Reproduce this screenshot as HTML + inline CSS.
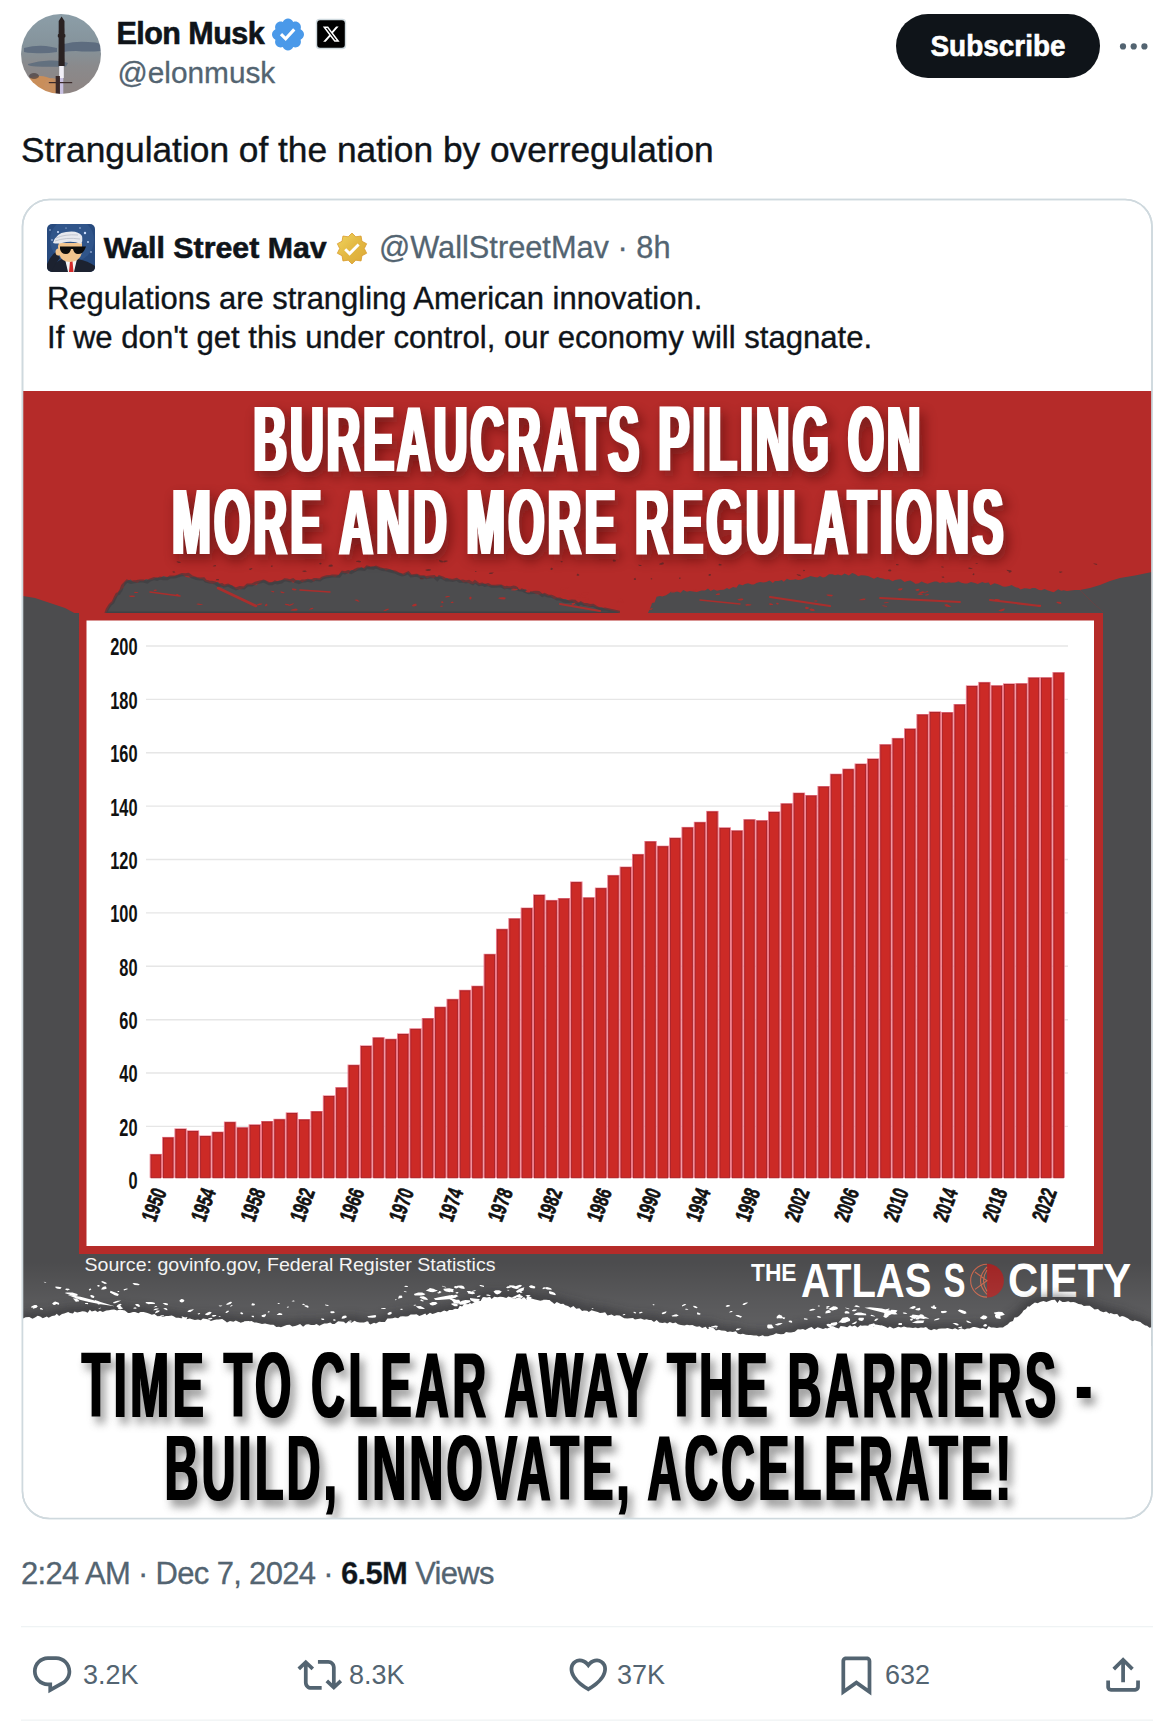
<!DOCTYPE html><html><head><meta charset="utf-8"><title>Elon Musk on X</title>
<style>html,body{margin:0;padding:0;background:#fff;}body{width:1174px;height:1726px;overflow:hidden;position:relative;}svg{display:block;}</style></head><body>
<svg width="1174" height="1726" viewBox="0 0 1174 1726">
<defs>
<clipPath id="av"><circle cx="61" cy="54" r="40"/></clipPath>
<clipPath id="av2"><rect x="47" y="224" width="48" height="48" rx="5"/></clipPath>
<clipPath id="imgclip"><path d="M23 391 H1151.5 V1491 A27 27 0 0 1 1124.5 1518 H50 A27 27 0 0 1 23 1491 Z"/></clipPath>
<linearGradient id="sky" x1="0" y1="0" x2="0" y2="1"><stop offset="0" stop-color="#8c9ea8"/><stop offset="0.4" stop-color="#85939b"/><stop offset="0.65" stop-color="#8a8a8c"/><stop offset="1" stop-color="#8e8482"/></linearGradient>
<radialGradient id="plume" cx="0.25" cy="0.95" r="0.45"><stop offset="0" stop-color="#e0a060"/><stop offset="0.6" stop-color="#b88060" stop-opacity="0.8"/><stop offset="1" stop-color="#9a8d88" stop-opacity="0"/></radialGradient>
<linearGradient id="gold" x1="0" y1="0" x2="1" y2="1"><stop offset="0" stop-color="#f0d560"/><stop offset="0.5" stop-color="#e3b842"/><stop offset="1" stop-color="#dcaa38"/></linearGradient>
<filter id="tsh" x="-5%" y="-20%" width="110%" height="150%"><feGaussianBlur stdDeviation="3"/></filter>
<filter id="avb" x="-5%" y="-5%" width="110%" height="110%"><feGaussianBlur stdDeviation="0.7"/></filter>
<filter id="bl1" x="-5%" y="-20%" width="110%" height="150%"><feGaussianBlur stdDeviation="1.2"/></filter>
<filter id="bl2" x="-10%" y="-10%" width="120%" height="120%"><feGaussianBlur stdDeviation="4"/></filter>
<filter id="dil" x="-2%" y="-10%" width="104%" height="120%"><feMorphology operator="dilate" radius="4.4 0"/></filter>
<filter id="dils" x="-4%" y="-30%" width="108%" height="160%"><feMorphology operator="dilate" radius="4.4 0"/><feGaussianBlur stdDeviation="13 6"/></filter>
<filter id="dil2" x="-2%" y="-10%" width="104%" height="120%"><feMorphology operator="dilate" radius="2.4 0"/></filter>
<filter id="dil2s" x="-4%" y="-30%" width="108%" height="160%"><feMorphology operator="dilate" radius="2.4 0"/><feGaussianBlur stdDeviation="9 4"/></filter>
<linearGradient id="tearg" x1="0" y1="0" x2="0" y2="1"><stop offset="0" stop-color="#fff" stop-opacity="0"/><stop offset="0.5" stop-color="#fff" stop-opacity="0.07"/><stop offset="1" stop-color="#fff" stop-opacity="0.12"/></linearGradient>
</defs>
<g clip-path="url(#av)"><g filter="url(#avb)">
<rect x="21" y="14" width="80" height="80" fill="url(#sky)"/>
<path d="M64 44 Q75 41 88 42 Q96 42 101 44 L101 51 Q88 52 76 51 Q68 51 64 52Z" fill="#56657a" opacity="0.85"/>
<path d="M24 48 Q35 45 46 46 Q52 47 57 48 L57 52 Q45 54 33 53 Q27 53 24 52Z" fill="#56657a" opacity="0.8"/>
<path d="M28 64 Q40 60 52 60.5 Q62 61 68 63 L66 66.5 Q50 67 36 66.5 Q30 66 28 65Z" fill="#56657a" opacity="0.75"/>
<ellipse cx="40" cy="88" rx="17" ry="12" fill="#cf8f55" opacity="0.9"/>
<ellipse cx="52" cy="86" rx="8" ry="8" fill="#c89060" opacity="0.8"/>
<ellipse cx="34" cy="76" rx="5" ry="3" fill="#4a4040" opacity="0.7"/>
<path d="M61.6 16.5 L64.5 21 L64.7 66 L58.5 66 L58.7 21 Z" fill="#2a2224"/>
<rect x="57.8" y="34" width="7.6" height="3.5" rx="1" fill="#2a2224"/>
<rect x="59.2" y="66" width="4.6" height="12" fill="#f2f0f8"/>
<rect x="59.8" y="78" width="3.5" height="16" fill="#c8c0e0"/>
<rect x="55.7" y="76" width="4.2" height="18" fill="#3a2a2a"/>
<rect x="48.8" y="82" width="23.4" height="1.2" fill="#3a2a2a"/>
</g></g>
<text x="116.5" y="44" font-family="'Liberation Sans', sans-serif" font-weight="700" font-size="30.5" letter-spacing="-0.55" fill="#0f1419" stroke="#0f1419" stroke-width="0.6">Elon Musk</text>
<g transform="translate(272.00,18.50) scale(1.5610) translate(-1.75,-1.75)"><path d="M22.25 12c0-1.43-.88-2.67-2.19-3.34.46-1.39.2-2.9-.81-3.91s-2.52-1.27-3.91-.81c-.66-1.31-1.91-2.19-3.34-2.19s-2.67.88-3.33 2.19c-1.4-.46-2.91-.2-3.92.81s-1.26 2.52-.8 3.91c-1.31.67-2.2 1.91-2.2 3.34s.89 2.67 2.2 3.34c-.46 1.39-.21 2.9.8 3.91s2.52 1.26 3.91.81c.67 1.31 1.91 2.19 3.34 2.19s2.68-.88 3.34-2.19c1.39.45 2.9.2 3.91-.81s1.27-2.52.81-3.91c1.31-.67 2.19-1.91 2.19-3.34zm-11.71 4.2L6.8 12.46l1.41-1.42 2.26 2.26 4.8-5.23 1.47 1.36-6.2 6.77z" fill="#4a99e9" fill-rule="evenodd"/></g>
<rect x="315.8" y="18.8" width="30.4" height="30.4" rx="4" fill="#cfd9de"/>
<rect x="317.2" y="20.2" width="27.6" height="27.6" rx="3" fill="#000"/>
<g transform="translate(322.8,26.6) scale(0.78) translate(-1.25,-2.25)"><path d="M18.244 2.25h3.308l-7.227 8.26 8.502 11.24H16.17l-5.214-6.817L4.99 21.75H1.68l7.73-8.835L1.254 2.25H8.08l4.713 6.231zm-1.161 17.52h1.833L7.084 4.126H5.117z" fill="#fff" fill-rule="evenodd"/></g>
<text x="117.5" y="83" font-family="'Liberation Sans', sans-serif" font-size="29.8" fill="#536471" stroke="#536471" stroke-width="0.3">@elonmusk</text>
<rect x="896" y="14" width="204" height="64" rx="32" fill="#0f1419"/>
<text x="998" y="56" text-anchor="middle" font-family="'Liberation Sans', sans-serif" font-weight="700" font-size="29.5" textLength="135" lengthAdjust="spacingAndGlyphs" fill="#fff" stroke="#fff" stroke-width="0.6">Subscribe</text>
<circle cx="1123" cy="46.4" r="3.1" fill="#536471"/>
<circle cx="1133.7" cy="46.4" r="3.1" fill="#536471"/>
<circle cx="1144.4" cy="46.4" r="3.1" fill="#536471"/>
<text x="21" y="161.5" font-family="'Liberation Sans', sans-serif" font-size="35.3" fill="#0f1419" stroke="#0f1419" stroke-width="0.4">Strangulation of the nation by overregulation</text>
<rect x="22.5" y="199.5" width="1129.5" height="1319" rx="27" fill="none" stroke="#cfd9de" stroke-width="1.6"/>
<g clip-path="url(#av2)">
<rect x="47" y="224" width="48" height="48" fill="#274a7e"/>
<circle cx="72" cy="240" r="22" fill="#3a5f96" opacity="0.5"/>
<circle cx="58" cy="232" r="1" fill="#cfe0ff"/>
<circle cx="85" cy="233" r="1.2" fill="#cfe0ff"/>
<circle cx="88" cy="242" r="0.9" fill="#cfe0ff"/>
<circle cx="52" cy="240" r="0.8" fill="#cfe0ff"/>
<circle cx="80" cy="228" r="0.7" fill="#cfe0ff"/>
<circle cx="91" cy="252" r="0.8" fill="#cfe0ff"/>
<circle cx="50" cy="230" r="0.7" fill="#cfe0ff"/>
<circle cx="66" cy="228" r="0.6" fill="#cfe0ff"/>
<path d="M47 264 Q50 256 56 252 L60 258 Q56 262 54 272 H47Z" fill="#1c2230"/>
<path d="M52 272 Q54 262 62 259 L78 259 Q88 261 95 266 V272Z" fill="#1c2230"/>
<path d="M65 259 L77 259 L74 272 L68 272Z" fill="#f4f4f4"/><path d="M70 261 L72.5 261 L73.5 272 L69 272Z" fill="#d42a2a"/>
<path d="M58 246 Q58 262 70 262 Q82 261 82 250 L82 243 L59 243Z" fill="#f1c48e"/>
<ellipse cx="58.5" cy="252" rx="3" ry="3.5" fill="#f1c48e"/>
<path d="M53 243 Q56 233 66 232 Q78 230 82 236 Q83 241 81 244 Q72 240 62 243 Q57 244 53 243Z" fill="#e6e8ee"/>
<path d="M56 238 Q65 234 78 235 M55 241 Q66 237 80 239" stroke="#b8bcc8" stroke-width="0.8" fill="none"/>
<path d="M60 246.5 H86 L85 249 Q83 254 78 254 Q74 254 73 249 L71 249 Q70 254 66 254 Q61 254 60 249Z" fill="#0d0d0d"/>
</g>
<text x="103.8" y="257.8" font-family="'Liberation Sans', sans-serif" font-weight="700" font-size="30.3" fill="#0f1419" stroke="#0f1419" stroke-width="0.6">Wall Street Mav</text>
<path d="M352.00 233.10 L355.80 236.80 L361.05 236.04 L361.95 241.27 L366.65 243.74 L364.30 248.50 L366.65 253.26 L361.95 255.73 L361.05 260.96 L355.80 260.20 L352.00 263.90 L348.20 260.20 L342.95 260.96 L342.05 255.73 L337.35 253.26 L339.70 248.50 L337.35 243.74 L342.05 241.27 L342.95 236.04 L348.20 236.80 Z" fill="url(#gold)" stroke="#d99a2c" stroke-width="0.8" stroke-linejoin="round"/>
<path d="M345.2 249.2 L349.6 253.6 L358.6 244.4" fill="none" stroke="#fff" stroke-width="2.9" stroke-linecap="butt"/>
<text x="379" y="257.8" font-family="'Liberation Sans', sans-serif" font-size="30.76" fill="#536471" stroke="#536471" stroke-width="0.3">@WallStreetMav · 8h</text>
<text x="47" y="309.2" font-family="'Liberation Sans', sans-serif" font-size="30.95" fill="#0f1419" stroke="#0f1419" stroke-width="0.35">Regulations are strangling American innovation.</text>
<text x="47" y="348.4" font-family="'Liberation Sans', sans-serif" font-size="31.1" fill="#0f1419" stroke="#0f1419" stroke-width="0.35">If we don't get this under control, our economy will stagnate.</text>
<g clip-path="url(#imgclip)">
<rect x="23" y="391" width="1129" height="1128" fill="#fff"/>
<rect x="23" y="391" width="1129" height="955" fill="#4c4c4e"/>
<rect x="23" y="391" width="1129" height="222" fill="#b52b29"/>
<path d="M23 596 L35 598 L50 603 L65 608 L78 615 L79 640 L23 640 Z" fill="#4c4c4e"/>
<path d="M1152 572 L1135 575.5 L1120 578 L1110 581 L1100 585 L1090 588 L1080 590 L1090 600 L1103 612 L1103 640 L1152 640 Z" fill="#4c4c4e"/>
<path d="M106.0 613.0 L108.1 608.8 L110.0 605.0 L112.4 603.0 L115.0 598.0 L117.1 595.4 L119.0 591.5 L121.0 590.0 L123.5 587.5 L124.7 582.5 L127.0 581.0 L130.7 579.5 L132.8 581.7 L137.5 582.7 L140.0 581.0 L143.5 581.2 L145.9 579.1 L150.0 580.0 L152.6 579.4 L156.3 577.6 L160.0 578.0 L163.3 576.0 L167.2 577.1 L170.0 577.0 L173.2 576.4 L176.3 575.7 L178.6 575.0 L182.0 574.5 L186.1 577.1 L189.0 577.4 L192.0 577.0 L195.6 577.3 L200.0 579.0 L202.3 579.0 L205.8 581.6 L208.8 582.6 L212.6 583.8 L215.0 583.0 L217.8 581.7 L221.5 585.5 L224.6 586.2 L228.0 585.0 L232.2 585.5 L236.0 589.0 L239.6 589.5 L244.0 588.0 L247.7 585.0 L252.0 585.0 L256.4 585.2 L260.0 582.0 L262.6 580.6 L265.3 580.6 L268.5 583.1 L271.9 582.2 L275.0 582.0 L278.4 580.7 L281.2 580.3 L283.9 580.0 L286.6 580.2 L290.0 581.0 L293.5 582.7 L296.6 580.3 L298.8 580.0 L302.2 582.3 L305.0 581.0 L308.8 579.4 L310.6 579.6 L313.7 581.4 L316.3 579.5 L320.0 580.0 L323.1 577.5 L326.2 577.1 L328.9 576.5 L332.0 576.0 L335.2 576.9 L339.1 574.8 L341.2 572.6 L345.0 573.0 L348.8 573.5 L351.0 570.1 L355.5 570.9 L358.0 569.0 L361.7 567.2 L364.2 569.0 L367.0 567.0 L369.6 567.1 L374.2 566.2 L377.1 567.3 L380.0 568.7 L383.5 568.5 L385.7 570.4 L389.4 569.5 L391.6 569.8 L395.0 572.0 L398.7 572.8 L401.0 573.6 L404.0 575.3 L407.3 572.6 L410.1 574.7 L414.0 575.5 L417.0 574.6 L419.8 576.4 L424.2 575.9 L427.1 578.4 L430.0 577.0 L433.5 578.2 L435.9 576.7 L440.7 576.8 L444.1 579.7 L446.9 577.8 L450.0 580.0 L453.6 580.3 L457.2 580.1 L459.7 579.7 L463.4 582.5 L466.0 582.0 L469.5 583.3 L473.1 583.9 L475.9 582.7 L479.4 585.0 L482.0 584.0 L485.7 584.1 L488.5 586.1 L491.4 585.6 L495.0 585.9 L498.0 586.0 L501.2 585.0 L504.6 588.8 L506.8 588.3 L510.0 588.0 L513.1 589.3 L516.5 588.8 L519.4 588.0 L522.0 590.0 L525.8 589.2 L528.9 591.7 L533.0 592.6 L536.0 594.0 L539.7 594.4 L541.2 593.8 L545.3 594.6 L548.0 596.0 L550.5 595.7 L554.3 599.0 L557.6 598.0 L560.0 599.0 L563.3 598.9 L565.9 598.9 L569.7 601.6 L572.0 601.0 L574.8 603.2 L577.7 603.0 L581.0 602.3 L584.0 604.5 L587.6 606.3 L590.7 606.5 L592.5 605.6 L596.0 607.0 L598.6 607.5 L601.9 607.3 L605 609 L618.5 612 L618.5 613 Z" fill="#4c4c4e"/>
<path d="M648.0 613.0 L649.3 610.1 L651.2 605.7 L652.0 603.0 L654.6 602.4 L656.6 596.8 L660.0 596.0 L662.3 596.5 L666.1 595.2 L669.5 592.9 L671.4 591.1 L675.0 592.0 L677.2 591.6 L680.6 592.8 L683.3 590.1 L686.9 591.7 L690.0 591.0 L693.2 591.4 L696.7 591.9 L698.5 591.4 L701.5 590.5 L705.0 590.5 L708.0 588.6 L710.5 591.1 L713.8 589.4 L717.0 590.8 L720.0 590.0 L723.7 589.7 L727.0 588.1 L729.1 589.2 L733.0 587.0 L736.4 587.8 L738.9 584.2 L742.7 585.2 L745.0 584.0 L748.1 583.2 L751.5 584.6 L753.9 584.4 L756.5 582.9 L760.0 582.0 L763.5 582.6 L766.3 582.1 L769.6 580.4 L772.8 582.9 L775.0 581.0 L778.5 580.9 L781.7 580.0 L783.8 581.7 L786.9 578.7 L790.0 580.0 L793.4 579.8 L795.2 579.2 L798.3 579.9 L801.5 579.5 L805.0 578.0 L808.5 577.0 L810.4 575.9 L814.4 576.9 L817.3 577.6 L820.0 576.0 L823.0 577.4 L825.3 577.1 L829.0 574.2 L832.4 574.2 L835.0 575.2 L838.0 574.5 L841.5 575.6 L844.6 573.6 L848.8 575.4 L852.2 573.0 L855.0 574.0 L858.3 576.2 L861.0 575.3 L864.8 575.6 L868.0 576.0 L870.2 576.9 L874.0 578.7 L877.5 577.1 L880.0 578.0 L883.0 578.6 L885.3 579.5 L888.9 579.3 L892.7 581.2 L895.0 580.0 L898.0 579.5 L900.9 579.3 L904.6 582.1 L906.7 581.2 L910.2 580.6 L913.0 582.0 L915.4 583.8 L918.2 583.5 L921.6 581.6 L925.0 583.0 L927.7 583.7 L931.2 582.5 L934.4 581.6 L937.0 581.6 L940.0 583.0 L942.5 582.0 L945.9 582.9 L948.9 582.3 L951.5 582.7 L955.0 582.5 L958.4 581.3 L961.4 582.8 L964.8 583.5 L967.4 583.4 L971.0 582.0 L975.0 583.1 L977.7 583.9 L982.2 582.1 L985.0 583.0 L988.8 582.4 L990.4 585.2 L994.4 583.3 L996.4 583.7 L1000.0 585.0 L1002.9 586.6 L1005.4 586.8 L1009.3 585.9 L1011.5 584.9 L1015.0 587.0 L1018.7 588.1 L1020.4 589.5 L1024.4 588.2 L1027.3 588.6 L1030.0 589.0 L1032.3 588.1 L1035.3 588.1 L1039.0 589.9 L1041.4 590.2 L1044.5 589.1 L1048.0 590.5 L1052.0 591.8 L1053.7 592.2 L1058.2 589.2 L1061.1 590.7 L1063.8 590.3 L1067.0 591.0 L1070.9 590.6 L1075.0 590.0 L1080 590 L1090 600 L1103 612 L1103 613 Z" fill="#4c4c4e"/>
<path d="M106.0 613.0 L107.2 609.4 L110.0 605.0 L113.1 602.2 L115.0 598.0 L116.9 594.2 L118.8 593.5 L121.0 590.0 L122.5 585.9 L124.2 584.0 L127.0 581.0 L130.7 582.4 L134.1 581.7 L136.6 581.5 L140.0 581.0 L143.3 581.0 L147.2 582.1 L150.0 580.0 L154.0 578.5 L157.1 579.5 L160.0 578.0 L163.2 578.8 L167.3 578.8 L170.0 577.0 L173.4 577.1 L175.8 576.7 L178.3 575.9 L182.0 574.5 L185.3 574.8 L188.4 574.4 L192.0 577.0 L196.2 578.5 L200.0 579.0 L203.7 578.8 L205.7 581.2 L209.1 582.0 L211.8 582.3 L215.0 583.0 L218.5 585.3 L221.9 584.7 L224.0 586.2 L228.0 585.0 L232.4 587.4 L236.0 589.0 L239.8 587.6 L244.0 588.0 L247.5 584.9 L252.0 585.0 L255.4 583.1 L260.0 582.0 L263.6 581.1 L266.0 582.2 L269.1 583.7 L272.2 583.8 L275.0 582.0 L277.3 582.9 L281.4 582.0 L284.7 579.8 L287.0 580.0 L290.0 581.0 L293.0 579.8 L295.3 581.4 L298.9 582.6 L302.2 581.1 L305.0 581.0 L307.7 580.3 L311.1 581.2 L314.3 579.6 L316.2 579.5 L320.0 580.0 L322.3 578.1 L326.4 576.8 L329.6 576.6 L332.0 576.0 L334.5 576.1 L339.2 576.3 L342.4 572.2 L345.0 573.0 L348.2 571.7 L351.1 572.7 L355.4 570.1 L358.0 569.0 L360.9 569.1 L364.5 569.4 L367.0 567.0 L369.6 567.8 L373.4 568.3 L376.0 567.2 L380.0 568.7 L382.4 569.5 L386.3 569.8 L388.6 570.5 L391.9 571.6 L395.0 572.0 L398.2 573.6 L402.1 575.0 L404.1 574.6 L408.3 572.9 L411.0 575.9 L414.0 575.5 L416.8 575.3 L420.5 576.8 L423.8 576.7 L426.3 577.6 L430.0 577.0 L434.1 576.6 L437.3 579.5 L439.3 576.8 L443.2 578.2 L446.0 579.9 L450.0 580.0 L452.5 580.5 L456.7 579.3 L459.8 581.4 L462.8 581.1 L466.0 582.0 L468.9 581.4 L472.9 583.7 L475.0 581.7 L479.0 584.7 L482.0 584.0 L484.7 585.4 L488.0 584.5 L491.4 586.3 L495.6 586.2 L498.0 586.0 L501.1 585.9 L504.7 587.9 L506.8 587.2 L510.0 588.0 L513.6 587.0 L515.3 587.5 L519.0 589.7 L522.0 590.0 L525.3 591.5 L528.7 592.7 L533.0 592.6 L536.3 592.2 L538.7 592.5 L542.3 595.4 L544.4 594.5 L548.0 596.0 L551.4 596.2 L553.4 597.0 L557.1 599.0 L560.0 599.0 L563.7 601.0 L565.9 601.5 L568.7 601.6 L572.0 601.0 L574.8 601.2 L578.6 604.3 L580.8 602.7 L584.0 604.5 L586.8 604.6 L589.8 605.4 L593.1 605.3 L596.0 607.0 L599.1 608.7 L602.1 609.5 L605 609 L618.5 612 L618.5 613 Z" fill="none" stroke="#3c3b3e" stroke-width="3" opacity="0.6"/>
<path d="M293.9 603.7 L292.8 604.6 L290.8 605.6 L288.9 606.0 L288.1 605.7 L289.9 604.6 L293.4 603.2 Z M622.4 599.9 L621.9 601.6 L619.4 601.1 L618.2 599.9 L618.4 599.0 L619.4 598.9 L622.0 598.8 Z M902.7 588.4 L901.8 589.9 L900.0 590.4 L898.8 590.5 L898.0 589.4 L899.0 588.5 L901.3 588.2 Z M203.1 604.7 L201.9 604.9 L198.1 604.8 L196.2 604.1 L197.2 603.7 L198.2 603.5 L200.9 603.9 Z M262.5 603.6 L261.2 604.7 L258.6 605.2 L256.7 605.2 L257.0 604.6 L259.3 603.6 L261.4 603.4 Z M865.8 598.8 L864.8 600.1 L861.3 600.3 L859.4 600.3 L859.3 599.7 L861.3 599.0 L863.8 598.4 Z M1061.3 602.9 L1061.1 604.0 L1059.1 603.7 L1056.4 602.8 L1056.9 601.7 L1058.5 601.8 L1061.1 602.1 Z M808.6 608.6 L808.3 609.0 L806.6 609.3 L805.0 608.3 L804.8 607.7 L806.3 606.8 L809.0 607.6 Z M951.4 606.9 L948.9 606.9 L945.8 606.4 L944.1 604.8 L945.2 604.4 L946.7 604.0 L949.1 605.2 Z M743.5 599.2 L742.7 600.1 L741.3 600.5 L738.9 600.4 L737.3 599.5 L740.6 598.6 L742.4 598.5 Z M530.3 590.9 L529.8 592.6 L527.3 592.6 L526.0 592.1 L525.2 591.0 L527.7 590.1 L529.2 589.5 Z M284.4 593.1 L283.4 593.2 L281.7 593.1 L280.2 591.9 L280.8 591.6 L281.8 591.4 L284.5 592.4 Z M178.7 594.9 L178.1 596.1 L176.5 595.8 L175.8 594.8 L176.1 594.2 L177.3 594.0 L178.1 594.0 Z M296.6 590.0 L294.7 590.5 L292.3 590.1 L291.9 588.9 L292.2 588.6 L293.5 588.4 L296.2 589.1 Z M156.9 590.2 L156.5 590.8 L155.5 591.1 L153.4 590.9 L153.9 590.3 L154.4 589.8 L156.2 589.5 Z M817.3 601.0 L817.3 601.4 L815.3 601.6 L814.7 601.6 L814.1 600.9 L814.7 600.5 L817.2 600.5 Z M289.4 605.0 L288.3 605.3 L286.1 605.3 L285.0 604.7 L285.3 603.7 L287.5 603.9 L288.4 604.1 Z M588.8 593.1 L587.7 594.3 L585.3 595.4 L582.2 594.7 L581.2 593.4 L583.7 592.3 L587.2 592.4 Z M652.6 608.5 L652.3 609.0 L651.4 609.7 L649.2 610.0 L648.8 609.3 L650.0 608.7 L652.5 607.9 Z M1041.3 605.4 L1040.5 606.2 L1038.2 606.5 L1036.8 606.0 L1037.5 605.0 L1038.8 604.7 L1040.6 604.8 Z M389.1 608.8 L388.7 609.6 L385.4 610.9 L384.0 610.7 L383.1 610.5 L386.1 609.3 L387.3 608.8 Z M581.2 596.1 L581.3 597.1 L576.8 597.3 L575.5 596.7 L576.3 595.5 L578.6 594.7 L580.6 595.1 Z M274.5 591.9 L273.2 592.4 L272.4 592.1 L270.9 591.3 L270.9 590.8 L272.6 590.9 L273.9 591.3 Z M624.0 601.9 L622.8 602.7 L620.8 602.9 L615.9 602.1 L617.4 601.8 L618.5 601.2 L622.2 601.6 Z M267.6 605.2 L266.4 606.0 L265.7 606.4 L264.8 605.2 L265.4 604.6 L266.3 603.8 L267.0 603.7 Z M919.6 589.3 L919.4 590.1 L917.9 591.1 L916.1 590.7 L915.2 589.8 L916.7 589.2 L918.2 588.8 Z M588.6 598.9 L588.0 599.4 L585.1 599.1 L582.6 597.8 L583.1 597.3 L585.1 597.4 L587.2 598.0 Z M416.8 604.9 L416.4 605.7 L413.9 606.5 L412.5 606.3 L411.9 605.4 L413.5 604.3 L416.1 603.6 Z M924.6 591.7 L923.2 593.1 L921.4 593.5 L920.1 593.4 L918.6 593.1 L920.6 592.1 L922.6 591.3 Z M929.2 594.7 L928.3 595.0 L926.9 595.4 L925.6 595.4 L924.6 595.0 L927.1 594.3 L928.2 594.1 Z M575.1 603.1 L575.0 603.8 L573.1 604.9 L571.7 604.8 L571.4 604.1 L572.1 603.1 L573.6 602.9 Z M505.6 598.4 L504.5 599.4 L500.8 599.2 L498.0 598.2 L499.3 597.4 L502.7 597.2 L505.5 597.6 Z M135.5 596.2 L133.4 597.0 L130.6 597.0 L129.5 596.6 L128.7 595.8 L131.9 595.5 L134.5 595.8 Z M568.5 587.5 L566.5 588.4 L564.6 589.3 L561.0 589.9 L560.6 588.4 L563.5 587.1 L565.9 587.2 Z M720.0 594.2 L719.1 595.0 L717.2 595.1 L715.9 594.9 L715.7 594.5 L717.3 593.6 L719.5 593.3 Z M450.0 596.1 L449.4 596.8 L446.2 597.6 L445.3 597.2 L444.8 597.0 L446.9 596.1 L448.6 596.0 Z M832.6 595.5 L831.6 596.5 L828.3 595.9 L826.2 595.1 L826.9 594.5 L829.7 594.4 L833.4 595.1 Z M442.9 605.7 L442.7 606.6 L441.6 606.7 L440.4 607.0 L440.3 606.4 L441.0 605.8 L442.5 605.7 Z M778.9 604.1 L777.9 604.6 L777.0 604.6 L776.3 603.6 L775.8 603.1 L777.2 602.8 L778.2 603.1 Z M697.0 589.4 L696.7 589.9 L694.5 590.5 L693.1 590.6 L693.7 590.0 L694.3 589.6 L696.4 589.2 Z M518.1 589.6 L516.6 590.1 L514.7 590.6 L510.8 590.2 L511.6 589.4 L514.0 588.9 L517.2 588.7 Z M751.7 604.6 L750.3 605.4 L746.3 605.8 L745.5 605.3 L745.1 604.8 L747.5 604.0 L749.1 604.2 Z M521.3 589.1 L520.7 589.5 L519.1 589.4 L517.9 587.9 L518.3 587.3 L519.7 587.2 L520.8 587.9 Z M889.4 602.0 L887.5 602.7 L884.4 603.3 L884.0 602.9 L883.9 602.7 L885.3 602.3 L887.1 602.0 Z M453.7 602.4 L452.7 603.0 L451.7 603.1 L450.8 602.7 L450.7 602.2 L452.0 601.7 L452.9 601.6 Z M887.1 606.7 L886.5 606.8 L884.4 606.6 L881.6 605.7 L883.4 605.6 L883.5 605.3 L887.1 606.2 Z M997.4 599.7 L997.8 600.5 L995.2 601.3 L994.2 600.6 L994.3 600.3 L995.2 599.2 L997.6 599.0 Z M814.9 610.5 L813.5 611.0 L811.9 611.0 L809.3 609.9 L810.2 608.8 L811.3 608.6 L814.1 609.3 Z M313.3 608.1 L313.2 608.8 L311.1 609.4 L309.5 609.5 L308.7 609.4 L311.2 608.1 L313.3 607.8 Z M359.7 601.3 L358.3 601.8 L356.9 601.1 L354.3 600.1 L355.0 599.7 L357.1 599.6 L358.4 600.5 Z M471.7 597.7 L471.2 598.9 L470.1 599.7 L469.4 598.9 L469.2 597.6 L470.0 597.1 L470.8 596.6 Z M1000.2 599.3 L998.4 600.4 L996.9 600.9 L993.9 600.9 L994.5 600.1 L995.4 599.0 L997.7 599.2 Z M1004.9 608.8 L1004.0 610.5 L1000.9 611.4 L999.2 610.8 L998.0 610.6 L1001.7 609.2 L1004.0 608.6 Z M923.1 594.5 L921.9 594.8 L919.6 595.0 L917.1 594.3 L917.7 593.9 L918.7 593.5 L922.6 594.1 Z M928.2 591.1 L928.1 591.8 L925.9 592.6 L924.1 592.8 L923.0 592.8 L925.6 591.8 L926.4 591.5 Z M297.8 609.5 L297.1 610.5 L294.4 610.7 L290.8 610.4 L290.7 609.9 L293.5 609.0 L296.1 608.4 Z M773.3 605.0 L771.6 605.0 L770.8 605.2 L768.4 603.9 L769.5 603.5 L770.7 603.2 L772.6 604.0 Z M138.6 592.3 L137.2 592.9 L135.3 593.0 L134.0 592.8 L134.3 592.2 L134.7 591.8 L136.7 591.9 Z M675.0 591.7 L674.7 592.6 L670.9 592.6 L670.8 592.0 L669.9 591.6 L672.2 591.1 L673.7 591.3 Z M443.5 601.9 L443.2 603.0 L442.0 603.0 L441.1 602.6 L441.0 601.9 L441.8 601.3 L442.5 601.2 Z " fill="#b52b29" opacity="0.9"/>
<path d="M1062.6 572.0 L1061.4 572.6 L1060.1 572.9 L1059.2 572.2 L1059.1 571.4 L1060.7 571.4 L1061.8 571.4 Z M801.1 576.3 L800.0 576.1 L798.4 575.8 L796.4 574.5 L797.3 574.2 L798.9 574.4 L800.1 574.8 Z M944.3 577.3 L944.0 577.8 L943.0 577.8 L942.1 577.4 L941.5 576.8 L943.0 576.5 L943.6 576.5 Z M1009.5 571.0 L1009.0 571.2 L1007.2 571.0 L1007.0 570.6 L1006.5 569.8 L1008.1 569.9 L1009.2 570.0 Z M443.0 561.3 L442.8 562.4 L440.6 562.2 L439.2 561.3 L439.0 559.9 L440.7 560.2 L442.5 560.7 Z M711.0 574.3 L710.8 575.5 L709.6 576.1 L708.8 575.6 L708.2 575.3 L709.1 574.1 L709.9 574.0 Z M252.4 568.3 L252.0 569.0 L250.5 570.0 L249.6 569.8 L248.8 569.0 L250.0 568.6 L252.3 567.9 Z M805.0 570.5 L804.6 571.1 L803.5 571.2 L803.1 570.7 L803.2 570.3 L803.6 569.8 L804.8 570.1 Z M361.2 561.5 L360.1 562.4 L358.7 562.3 L355.8 561.5 L356.2 560.9 L358.8 560.5 L360.4 561.0 Z M972.9 568.9 L971.6 569.1 L970.0 569.0 L968.2 568.4 L968.5 567.8 L969.4 567.6 L971.8 568.2 Z M680.9 578.0 L680.5 578.5 L679.8 578.9 L679.3 578.8 L678.9 578.1 L679.5 577.4 L680.1 577.4 Z M652.4 579.0 L651.9 579.3 L651.4 579.6 L650.9 579.2 L650.6 578.6 L651.3 578.3 L651.8 578.2 Z M448.2 561.0 L445.9 562.0 L443.9 562.5 L443.3 562.0 L443.3 560.9 L445.0 560.4 L446.5 560.6 Z M476.8 572.0 L476.3 572.1 L475.5 572.1 L475.2 571.8 L474.8 571.3 L475.8 571.1 L476.4 571.4 Z M431.2 569.7 L430.0 570.8 L427.5 571.1 L425.7 570.6 L425.4 569.7 L428.2 568.9 L430.3 569.3 Z M332.9 565.7 L332.5 566.4 L330.1 566.8 L328.6 566.5 L328.5 565.7 L329.6 564.7 L331.9 564.6 Z M943.9 567.4 L943.8 567.6 L942.2 567.5 L940.9 566.9 L941.5 566.6 L942.7 566.6 L943.5 566.8 Z M1097.3 564.4 L1096.9 564.9 L1095.0 564.4 L1093.7 563.8 L1093.2 563.2 L1095.1 563.5 L1096.6 563.7 Z M180.8 563.0 L179.6 562.9 L178.5 562.9 L176.7 561.9 L176.9 561.3 L178.8 561.4 L180.0 561.8 Z M974.5 574.3 L973.9 575.0 L973.2 575.3 L972.5 574.7 L973.1 573.6 L973.4 573.2 L974.4 573.7 Z M562.7 561.8 L562.5 562.1 L561.7 562.4 L560.5 561.6 L560.4 561.2 L561.8 560.9 L562.7 561.3 Z M321.5 563.7 L321.1 564.2 L320.2 564.6 L319.1 563.7 L319.8 563.0 L320.5 562.7 L321.6 563.2 Z M493.9 572.6 L492.3 573.8 L490.7 573.9 L489.7 574.0 L488.7 573.1 L491.0 572.5 L493.0 572.4 Z M424.4 578.7 L423.1 579.3 L421.0 579.2 L419.7 578.7 L419.9 577.9 L421.4 577.8 L423.1 578.2 Z M219.0 579.5 L218.9 580.3 L217.3 580.3 L215.7 580.3 L216.1 579.4 L216.7 579.1 L218.5 579.1 Z M175.4 572.4 L175.0 572.6 L173.6 572.7 L172.4 571.9 L172.5 571.5 L174.2 571.2 L174.5 571.6 Z M216.1 565.4 L215.8 566.2 L213.9 566.5 L212.8 566.2 L212.9 565.9 L214.3 565.2 L215.6 565.0 Z M663.5 562.8 L663.9 563.9 L661.7 564.8 L659.4 564.7 L659.4 563.7 L660.3 563.2 L663.0 562.2 Z M579.5 574.9 L578.6 575.8 L577.3 575.8 L576.6 575.2 L576.5 574.9 L577.7 573.6 L578.3 574.0 Z M306.9 571.4 L306.0 571.8 L304.1 571.9 L302.3 571.4 L302.9 570.8 L304.4 570.4 L305.5 570.5 Z M891.5 570.3 L890.4 571.5 L888.9 571.2 L888.0 570.6 L888.5 569.7 L889.6 569.6 L890.3 569.6 Z M636.0 579.0 L636.0 579.7 L635.1 580.0 L633.9 579.8 L633.8 578.7 L634.4 578.3 L635.2 577.8 Z M721.6 565.2 L720.9 565.6 L719.0 565.5 L718.5 565.1 L718.9 564.0 L719.4 563.8 L721.4 564.2 Z M898.8 564.7 L898.5 565.2 L897.0 565.2 L896.2 564.9 L896.0 564.2 L896.5 564.0 L898.1 564.2 Z M616.1 561.1 L614.9 561.6 L613.9 561.7 L612.7 561.1 L612.7 560.4 L613.4 559.6 L615.4 560.1 Z M977.7 563.6 L977.6 563.9 L976.5 564.1 L975.7 563.7 L975.6 563.3 L976.5 563.2 L977.6 563.2 Z M553.0 568.6 L552.5 569.6 L551.5 569.9 L550.7 569.7 L550.4 569.0 L551.2 567.8 L552.1 568.0 Z M1011.8 571.0 L1011.2 572.0 L1009.6 572.7 L1008.6 572.3 L1008.6 571.1 L1009.3 570.2 L1010.6 570.3 Z M272.8 566.1 L272.1 566.9 L271.8 566.9 L270.9 566.5 L271.0 565.8 L271.9 565.5 L272.5 565.6 Z M641.8 565.7 L641.0 566.1 L639.5 566.0 L638.5 565.2 L638.1 564.8 L638.9 564.7 L641.0 565.1 Z " fill="#5a2a2a" opacity="0.8"/>
<line x1="218" y1="588" x2="256" y2="606" stroke="#b52b29" stroke-width="2.6" stroke-linecap="round" opacity="0.9"/>
<line x1="560" y1="604" x2="600" y2="611" stroke="#b52b29" stroke-width="2" stroke-linecap="round" opacity="0.9"/>
<line x1="770" y1="597" x2="830" y2="606" stroke="#b52b29" stroke-width="2.2" stroke-linecap="round" opacity="0.9"/>
<line x1="880" y1="598" x2="960" y2="602" stroke="#b52b29" stroke-width="1.8" stroke-linecap="round" opacity="0.9"/>
<line x1="990" y1="600" x2="1040" y2="606" stroke="#b52b29" stroke-width="2" stroke-linecap="round" opacity="0.9"/>
<line x1="300" y1="590" x2="330" y2="592" stroke="#b52b29" stroke-width="1.5" stroke-linecap="round" opacity="0.9"/>
<line x1="700" y1="600" x2="740" y2="604" stroke="#b52b29" stroke-width="1.5" stroke-linecap="round" opacity="0.9"/>
<line x1="150" y1="592" x2="180" y2="596" stroke="#b52b29" stroke-width="1.5" stroke-linecap="round" opacity="0.9"/>
<rect x="79" y="613" width="1024" height="641" fill="#b52b29"/>
<rect x="86.5" y="620.5" width="1007.5" height="625.5" fill="#fff"/>
<text x="137.5" y="1189.2" text-anchor="end" font-family="'Liberation Sans', sans-serif" font-weight="700" font-size="23.8" textLength="9.1" lengthAdjust="spacingAndGlyphs" fill="#111">0</text>
<line x1="146" y1="1126.4" x2="1068" y2="1126.4" stroke="#e6e6e6" stroke-width="1.4"/>
<text x="137.5" y="1135.8" text-anchor="end" font-family="'Liberation Sans', sans-serif" font-weight="700" font-size="23.8" textLength="18.2" lengthAdjust="spacingAndGlyphs" fill="#111">20</text>
<line x1="146" y1="1073.0" x2="1068" y2="1073.0" stroke="#e6e6e6" stroke-width="1.4"/>
<text x="137.5" y="1082.4" text-anchor="end" font-family="'Liberation Sans', sans-serif" font-weight="700" font-size="23.8" textLength="18.2" lengthAdjust="spacingAndGlyphs" fill="#111">40</text>
<line x1="146" y1="1019.7" x2="1068" y2="1019.7" stroke="#e6e6e6" stroke-width="1.4"/>
<text x="137.5" y="1029.1" text-anchor="end" font-family="'Liberation Sans', sans-serif" font-weight="700" font-size="23.8" textLength="18.2" lengthAdjust="spacingAndGlyphs" fill="#111">60</text>
<line x1="146" y1="966.3" x2="1068" y2="966.3" stroke="#e6e6e6" stroke-width="1.4"/>
<text x="137.5" y="975.7" text-anchor="end" font-family="'Liberation Sans', sans-serif" font-weight="700" font-size="23.8" textLength="18.2" lengthAdjust="spacingAndGlyphs" fill="#111">80</text>
<line x1="146" y1="912.9" x2="1068" y2="912.9" stroke="#e6e6e6" stroke-width="1.4"/>
<text x="137.5" y="922.3" text-anchor="end" font-family="'Liberation Sans', sans-serif" font-weight="700" font-size="23.8" textLength="27.3" lengthAdjust="spacingAndGlyphs" fill="#111">100</text>
<line x1="146" y1="859.5" x2="1068" y2="859.5" stroke="#e6e6e6" stroke-width="1.4"/>
<text x="137.5" y="868.9" text-anchor="end" font-family="'Liberation Sans', sans-serif" font-weight="700" font-size="23.8" textLength="27.3" lengthAdjust="spacingAndGlyphs" fill="#111">120</text>
<line x1="146" y1="806.1" x2="1068" y2="806.1" stroke="#e6e6e6" stroke-width="1.4"/>
<text x="137.5" y="815.5" text-anchor="end" font-family="'Liberation Sans', sans-serif" font-weight="700" font-size="23.8" textLength="27.3" lengthAdjust="spacingAndGlyphs" fill="#111">140</text>
<line x1="146" y1="752.8" x2="1068" y2="752.8" stroke="#e6e6e6" stroke-width="1.4"/>
<text x="137.5" y="762.2" text-anchor="end" font-family="'Liberation Sans', sans-serif" font-weight="700" font-size="23.8" textLength="27.3" lengthAdjust="spacingAndGlyphs" fill="#111">160</text>
<line x1="146" y1="699.4" x2="1068" y2="699.4" stroke="#e6e6e6" stroke-width="1.4"/>
<text x="137.5" y="708.8" text-anchor="end" font-family="'Liberation Sans', sans-serif" font-weight="700" font-size="23.8" textLength="27.3" lengthAdjust="spacingAndGlyphs" fill="#111">180</text>
<line x1="146" y1="646.0" x2="1068" y2="646.0" stroke="#e6e6e6" stroke-width="1.4"/>
<text x="137.5" y="655.4" text-anchor="end" font-family="'Liberation Sans', sans-serif" font-weight="700" font-size="23.8" textLength="27.3" lengthAdjust="spacingAndGlyphs" fill="#111">200</text>
<rect x="149.70" y="1153.9" width="12.37" height="23.9" fill="#ec7a88"/>
<rect x="151.15" y="1155.0" width="9.47" height="22.8" fill="#cc2a26" stroke="#a82127" stroke-width="0.9"/>
<rect x="162.07" y="1136.9" width="12.37" height="40.9" fill="#ec7a88"/>
<rect x="163.52" y="1138.0" width="9.47" height="39.8" fill="#cc2a26" stroke="#a82127" stroke-width="0.9"/>
<rect x="174.43" y="1128.4" width="12.37" height="49.4" fill="#ec7a88"/>
<rect x="175.88" y="1129.5" width="9.47" height="48.3" fill="#cc2a26" stroke="#a82127" stroke-width="0.9"/>
<rect x="186.80" y="1130.4" width="12.37" height="47.4" fill="#ec7a88"/>
<rect x="188.25" y="1131.5" width="9.47" height="46.3" fill="#cc2a26" stroke="#a82127" stroke-width="0.9"/>
<rect x="199.16" y="1135.5" width="12.37" height="42.3" fill="#ec7a88"/>
<rect x="200.61" y="1136.5" width="9.47" height="41.3" fill="#cc2a26" stroke="#a82127" stroke-width="0.9"/>
<rect x="211.53" y="1131.6" width="12.37" height="46.2" fill="#ec7a88"/>
<rect x="212.98" y="1132.7" width="9.47" height="45.1" fill="#cc2a26" stroke="#a82127" stroke-width="0.9"/>
<rect x="223.90" y="1121.6" width="12.37" height="56.2" fill="#ec7a88"/>
<rect x="225.35" y="1122.7" width="9.47" height="55.1" fill="#cc2a26" stroke="#a82127" stroke-width="0.9"/>
<rect x="236.26" y="1127.1" width="12.37" height="50.7" fill="#ec7a88"/>
<rect x="237.71" y="1128.2" width="9.47" height="49.6" fill="#cc2a26" stroke="#a82127" stroke-width="0.9"/>
<rect x="248.63" y="1124.3" width="12.37" height="53.5" fill="#ec7a88"/>
<rect x="250.08" y="1125.4" width="9.47" height="52.4" fill="#cc2a26" stroke="#a82127" stroke-width="0.9"/>
<rect x="261.00" y="1121.0" width="12.37" height="56.8" fill="#ec7a88"/>
<rect x="262.45" y="1122.0" width="9.47" height="55.8" fill="#cc2a26" stroke="#a82127" stroke-width="0.9"/>
<rect x="273.36" y="1118.8" width="12.37" height="59.0" fill="#ec7a88"/>
<rect x="274.81" y="1119.9" width="9.47" height="57.9" fill="#cc2a26" stroke="#a82127" stroke-width="0.9"/>
<rect x="285.73" y="1112.4" width="12.37" height="65.4" fill="#ec7a88"/>
<rect x="287.18" y="1113.5" width="9.47" height="64.3" fill="#cc2a26" stroke="#a82127" stroke-width="0.9"/>
<rect x="298.09" y="1119.0" width="12.37" height="58.8" fill="#ec7a88"/>
<rect x="299.54" y="1120.0" width="9.47" height="57.8" fill="#cc2a26" stroke="#a82127" stroke-width="0.9"/>
<rect x="310.46" y="1111.0" width="12.37" height="66.8" fill="#ec7a88"/>
<rect x="311.91" y="1112.0" width="9.47" height="65.8" fill="#cc2a26" stroke="#a82127" stroke-width="0.9"/>
<rect x="322.83" y="1095.4" width="12.37" height="82.4" fill="#ec7a88"/>
<rect x="324.28" y="1096.5" width="9.47" height="81.3" fill="#cc2a26" stroke="#a82127" stroke-width="0.9"/>
<rect x="335.19" y="1087.1" width="12.37" height="90.7" fill="#ec7a88"/>
<rect x="336.64" y="1088.2" width="9.47" height="89.6" fill="#cc2a26" stroke="#a82127" stroke-width="0.9"/>
<rect x="347.56" y="1064.6" width="12.37" height="113.2" fill="#ec7a88"/>
<rect x="349.01" y="1065.7" width="9.47" height="112.1" fill="#cc2a26" stroke="#a82127" stroke-width="0.9"/>
<rect x="359.93" y="1045.4" width="12.37" height="132.4" fill="#ec7a88"/>
<rect x="361.38" y="1046.5" width="9.47" height="131.3" fill="#cc2a26" stroke="#a82127" stroke-width="0.9"/>
<rect x="372.29" y="1037.2" width="12.37" height="140.6" fill="#ec7a88"/>
<rect x="373.74" y="1038.2" width="9.47" height="139.6" fill="#cc2a26" stroke="#a82127" stroke-width="0.9"/>
<rect x="384.66" y="1038.7" width="12.37" height="139.1" fill="#ec7a88"/>
<rect x="386.11" y="1039.8" width="9.47" height="138.1" fill="#cc2a26" stroke="#a82127" stroke-width="0.9"/>
<rect x="397.02" y="1033.4" width="12.37" height="144.4" fill="#ec7a88"/>
<rect x="398.47" y="1034.5" width="9.47" height="143.3" fill="#cc2a26" stroke="#a82127" stroke-width="0.9"/>
<rect x="409.39" y="1028.3" width="12.37" height="149.5" fill="#ec7a88"/>
<rect x="410.84" y="1029.4" width="9.47" height="148.4" fill="#cc2a26" stroke="#a82127" stroke-width="0.9"/>
<rect x="421.76" y="1018.0" width="12.37" height="159.8" fill="#ec7a88"/>
<rect x="423.21" y="1019.1" width="9.47" height="158.7" fill="#cc2a26" stroke="#a82127" stroke-width="0.9"/>
<rect x="434.12" y="1006.6" width="12.37" height="171.2" fill="#ec7a88"/>
<rect x="435.57" y="1007.7" width="9.47" height="170.1" fill="#cc2a26" stroke="#a82127" stroke-width="0.9"/>
<rect x="446.49" y="998.8" width="12.37" height="179.0" fill="#ec7a88"/>
<rect x="447.94" y="999.9" width="9.47" height="177.9" fill="#cc2a26" stroke="#a82127" stroke-width="0.9"/>
<rect x="458.86" y="989.8" width="12.37" height="188.0" fill="#ec7a88"/>
<rect x="460.31" y="990.9" width="9.47" height="186.9" fill="#cc2a26" stroke="#a82127" stroke-width="0.9"/>
<rect x="471.22" y="985.7" width="12.37" height="192.1" fill="#ec7a88"/>
<rect x="472.67" y="986.8" width="9.47" height="191.1" fill="#cc2a26" stroke="#a82127" stroke-width="0.9"/>
<rect x="483.59" y="953.8" width="12.37" height="224.0" fill="#ec7a88"/>
<rect x="485.04" y="954.9" width="9.47" height="222.9" fill="#cc2a26" stroke="#a82127" stroke-width="0.9"/>
<rect x="495.95" y="928.7" width="12.37" height="249.1" fill="#ec7a88"/>
<rect x="497.40" y="929.8" width="9.47" height="248.1" fill="#cc2a26" stroke="#a82127" stroke-width="0.9"/>
<rect x="508.32" y="918.1" width="12.37" height="259.7" fill="#ec7a88"/>
<rect x="509.77" y="919.2" width="9.47" height="258.6" fill="#cc2a26" stroke="#a82127" stroke-width="0.9"/>
<rect x="520.69" y="907.6" width="12.37" height="270.2" fill="#ec7a88"/>
<rect x="522.14" y="908.7" width="9.47" height="269.1" fill="#cc2a26" stroke="#a82127" stroke-width="0.9"/>
<rect x="533.05" y="894.4" width="12.37" height="283.4" fill="#ec7a88"/>
<rect x="534.50" y="895.5" width="9.47" height="282.3" fill="#cc2a26" stroke="#a82127" stroke-width="0.9"/>
<rect x="545.42" y="899.9" width="12.37" height="277.9" fill="#ec7a88"/>
<rect x="546.87" y="901.0" width="9.47" height="276.8" fill="#cc2a26" stroke="#a82127" stroke-width="0.9"/>
<rect x="557.79" y="898.0" width="12.37" height="279.8" fill="#ec7a88"/>
<rect x="559.24" y="899.1" width="9.47" height="278.7" fill="#cc2a26" stroke="#a82127" stroke-width="0.9"/>
<rect x="570.15" y="881.5" width="12.37" height="296.3" fill="#ec7a88"/>
<rect x="571.60" y="882.6" width="9.47" height="295.2" fill="#cc2a26" stroke="#a82127" stroke-width="0.9"/>
<rect x="582.52" y="897.2" width="12.37" height="280.6" fill="#ec7a88"/>
<rect x="583.97" y="898.2" width="9.47" height="279.6" fill="#cc2a26" stroke="#a82127" stroke-width="0.9"/>
<rect x="594.88" y="887.6" width="12.37" height="290.2" fill="#ec7a88"/>
<rect x="596.33" y="888.7" width="9.47" height="289.1" fill="#cc2a26" stroke="#a82127" stroke-width="0.9"/>
<rect x="607.25" y="874.9" width="12.37" height="302.9" fill="#ec7a88"/>
<rect x="608.70" y="876.0" width="9.47" height="301.8" fill="#cc2a26" stroke="#a82127" stroke-width="0.9"/>
<rect x="619.62" y="866.6" width="12.37" height="311.2" fill="#ec7a88"/>
<rect x="621.07" y="867.7" width="9.47" height="310.1" fill="#cc2a26" stroke="#a82127" stroke-width="0.9"/>
<rect x="631.98" y="853.9" width="12.37" height="323.9" fill="#ec7a88"/>
<rect x="633.43" y="855.0" width="9.47" height="322.8" fill="#cc2a26" stroke="#a82127" stroke-width="0.9"/>
<rect x="644.35" y="841.0" width="12.37" height="336.8" fill="#ec7a88"/>
<rect x="645.80" y="842.1" width="9.47" height="335.7" fill="#cc2a26" stroke="#a82127" stroke-width="0.9"/>
<rect x="656.71" y="845.7" width="12.37" height="332.1" fill="#ec7a88"/>
<rect x="658.16" y="846.8" width="9.47" height="331.1" fill="#cc2a26" stroke="#a82127" stroke-width="0.9"/>
<rect x="669.08" y="837.5" width="12.37" height="340.3" fill="#ec7a88"/>
<rect x="670.53" y="838.6" width="9.47" height="339.2" fill="#cc2a26" stroke="#a82127" stroke-width="0.9"/>
<rect x="681.45" y="826.9" width="12.37" height="350.9" fill="#ec7a88"/>
<rect x="682.90" y="828.0" width="9.47" height="349.8" fill="#cc2a26" stroke="#a82127" stroke-width="0.9"/>
<rect x="693.81" y="821.8" width="12.37" height="356.0" fill="#ec7a88"/>
<rect x="695.26" y="822.9" width="9.47" height="354.9" fill="#cc2a26" stroke="#a82127" stroke-width="0.9"/>
<rect x="706.18" y="810.9" width="12.37" height="366.9" fill="#ec7a88"/>
<rect x="707.63" y="812.0" width="9.47" height="365.8" fill="#cc2a26" stroke="#a82127" stroke-width="0.9"/>
<rect x="718.55" y="827.3" width="12.37" height="350.5" fill="#ec7a88"/>
<rect x="720.00" y="828.4" width="9.47" height="349.4" fill="#cc2a26" stroke="#a82127" stroke-width="0.9"/>
<rect x="730.91" y="830.2" width="12.37" height="347.6" fill="#ec7a88"/>
<rect x="732.36" y="831.2" width="9.47" height="346.6" fill="#cc2a26" stroke="#a82127" stroke-width="0.9"/>
<rect x="743.28" y="819.1" width="12.37" height="358.7" fill="#ec7a88"/>
<rect x="744.73" y="820.2" width="9.47" height="357.6" fill="#cc2a26" stroke="#a82127" stroke-width="0.9"/>
<rect x="755.64" y="820.1" width="12.37" height="357.7" fill="#ec7a88"/>
<rect x="757.09" y="821.2" width="9.47" height="356.6" fill="#cc2a26" stroke="#a82127" stroke-width="0.9"/>
<rect x="768.01" y="811.4" width="12.37" height="366.4" fill="#ec7a88"/>
<rect x="769.46" y="812.5" width="9.47" height="365.3" fill="#cc2a26" stroke="#a82127" stroke-width="0.9"/>
<rect x="780.38" y="803.2" width="12.37" height="374.6" fill="#ec7a88"/>
<rect x="781.83" y="804.2" width="9.47" height="373.6" fill="#cc2a26" stroke="#a82127" stroke-width="0.9"/>
<rect x="792.74" y="792.6" width="12.37" height="385.2" fill="#ec7a88"/>
<rect x="794.19" y="793.7" width="9.47" height="384.1" fill="#cc2a26" stroke="#a82127" stroke-width="0.9"/>
<rect x="805.11" y="795.0" width="12.37" height="382.8" fill="#ec7a88"/>
<rect x="806.56" y="796.1" width="9.47" height="381.7" fill="#cc2a26" stroke="#a82127" stroke-width="0.9"/>
<rect x="817.48" y="786.0" width="12.37" height="391.8" fill="#ec7a88"/>
<rect x="818.93" y="787.1" width="9.47" height="390.7" fill="#cc2a26" stroke="#a82127" stroke-width="0.9"/>
<rect x="829.84" y="773.7" width="12.37" height="404.1" fill="#ec7a88"/>
<rect x="831.29" y="774.8" width="9.47" height="403.1" fill="#cc2a26" stroke="#a82127" stroke-width="0.9"/>
<rect x="842.21" y="768.6" width="12.37" height="409.2" fill="#ec7a88"/>
<rect x="843.66" y="769.7" width="9.47" height="408.1" fill="#cc2a26" stroke="#a82127" stroke-width="0.9"/>
<rect x="854.57" y="763.5" width="12.37" height="414.3" fill="#ec7a88"/>
<rect x="856.02" y="764.6" width="9.47" height="413.2" fill="#cc2a26" stroke="#a82127" stroke-width="0.9"/>
<rect x="866.94" y="758.4" width="12.37" height="419.4" fill="#ec7a88"/>
<rect x="868.39" y="759.5" width="9.47" height="418.3" fill="#cc2a26" stroke="#a82127" stroke-width="0.9"/>
<rect x="879.31" y="744.1" width="12.37" height="433.7" fill="#ec7a88"/>
<rect x="880.76" y="745.2" width="9.47" height="432.6" fill="#cc2a26" stroke="#a82127" stroke-width="0.9"/>
<rect x="891.67" y="737.9" width="12.37" height="439.9" fill="#ec7a88"/>
<rect x="893.12" y="739.0" width="9.47" height="438.8" fill="#cc2a26" stroke="#a82127" stroke-width="0.9"/>
<rect x="904.04" y="728.3" width="12.37" height="449.5" fill="#ec7a88"/>
<rect x="905.49" y="729.4" width="9.47" height="448.4" fill="#cc2a26" stroke="#a82127" stroke-width="0.9"/>
<rect x="916.41" y="714.0" width="12.37" height="463.8" fill="#ec7a88"/>
<rect x="917.86" y="715.1" width="9.47" height="462.7" fill="#cc2a26" stroke="#a82127" stroke-width="0.9"/>
<rect x="928.77" y="711.4" width="12.37" height="466.4" fill="#ec7a88"/>
<rect x="930.22" y="712.5" width="9.47" height="465.3" fill="#cc2a26" stroke="#a82127" stroke-width="0.9"/>
<rect x="941.14" y="712.0" width="12.37" height="465.8" fill="#ec7a88"/>
<rect x="942.59" y="713.1" width="9.47" height="464.7" fill="#cc2a26" stroke="#a82127" stroke-width="0.9"/>
<rect x="953.50" y="704.0" width="12.37" height="473.8" fill="#ec7a88"/>
<rect x="954.95" y="705.1" width="9.47" height="472.7" fill="#cc2a26" stroke="#a82127" stroke-width="0.9"/>
<rect x="965.87" y="685.4" width="12.37" height="492.4" fill="#ec7a88"/>
<rect x="967.32" y="686.5" width="9.47" height="491.3" fill="#cc2a26" stroke="#a82127" stroke-width="0.9"/>
<rect x="978.24" y="681.9" width="12.37" height="495.9" fill="#ec7a88"/>
<rect x="979.69" y="683.0" width="9.47" height="494.8" fill="#cc2a26" stroke="#a82127" stroke-width="0.9"/>
<rect x="990.60" y="685.2" width="12.37" height="492.6" fill="#ec7a88"/>
<rect x="992.05" y="686.2" width="9.47" height="491.6" fill="#cc2a26" stroke="#a82127" stroke-width="0.9"/>
<rect x="1002.97" y="683.4" width="12.37" height="494.4" fill="#ec7a88"/>
<rect x="1004.42" y="684.5" width="9.47" height="493.3" fill="#cc2a26" stroke="#a82127" stroke-width="0.9"/>
<rect x="1015.34" y="683.1" width="12.37" height="494.7" fill="#ec7a88"/>
<rect x="1016.79" y="684.2" width="9.47" height="493.6" fill="#cc2a26" stroke="#a82127" stroke-width="0.9"/>
<rect x="1027.70" y="677.2" width="12.37" height="500.6" fill="#ec7a88"/>
<rect x="1029.15" y="678.2" width="9.47" height="499.6" fill="#cc2a26" stroke="#a82127" stroke-width="0.9"/>
<rect x="1040.07" y="677.2" width="12.37" height="500.6" fill="#ec7a88"/>
<rect x="1041.52" y="678.2" width="9.47" height="499.6" fill="#cc2a26" stroke="#a82127" stroke-width="0.9"/>
<rect x="1052.43" y="672.1" width="12.37" height="505.7" fill="#ec7a88"/>
<rect x="1053.88" y="673.2" width="9.47" height="504.6" fill="#cc2a26" stroke="#a82127" stroke-width="0.9"/>
<text transform="translate(156.2,1205.5) rotate(-70)" x="0" y="5.2" text-anchor="middle" font-family="'Liberation Sans', sans-serif" font-weight="700" font-size="22" textLength="33.5" lengthAdjust="spacingAndGlyphs" fill="#111" stroke="#111" stroke-width="0.7">1950</text>
<text transform="translate(205.6,1205.5) rotate(-70)" x="0" y="5.2" text-anchor="middle" font-family="'Liberation Sans', sans-serif" font-weight="700" font-size="22" textLength="33.5" lengthAdjust="spacingAndGlyphs" fill="#111" stroke="#111" stroke-width="0.7">1954</text>
<text transform="translate(255.1,1205.5) rotate(-70)" x="0" y="5.2" text-anchor="middle" font-family="'Liberation Sans', sans-serif" font-weight="700" font-size="22" textLength="33.5" lengthAdjust="spacingAndGlyphs" fill="#111" stroke="#111" stroke-width="0.7">1958</text>
<text transform="translate(304.6,1205.5) rotate(-70)" x="0" y="5.2" text-anchor="middle" font-family="'Liberation Sans', sans-serif" font-weight="700" font-size="22" textLength="33.5" lengthAdjust="spacingAndGlyphs" fill="#111" stroke="#111" stroke-width="0.7">1962</text>
<text transform="translate(354.0,1205.5) rotate(-70)" x="0" y="5.2" text-anchor="middle" font-family="'Liberation Sans', sans-serif" font-weight="700" font-size="22" textLength="33.5" lengthAdjust="spacingAndGlyphs" fill="#111" stroke="#111" stroke-width="0.7">1966</text>
<text transform="translate(403.5,1205.5) rotate(-70)" x="0" y="5.2" text-anchor="middle" font-family="'Liberation Sans', sans-serif" font-weight="700" font-size="22" textLength="33.5" lengthAdjust="spacingAndGlyphs" fill="#111" stroke="#111" stroke-width="0.7">1970</text>
<text transform="translate(453.0,1205.5) rotate(-70)" x="0" y="5.2" text-anchor="middle" font-family="'Liberation Sans', sans-serif" font-weight="700" font-size="22" textLength="33.5" lengthAdjust="spacingAndGlyphs" fill="#111" stroke="#111" stroke-width="0.7">1974</text>
<text transform="translate(502.4,1205.5) rotate(-70)" x="0" y="5.2" text-anchor="middle" font-family="'Liberation Sans', sans-serif" font-weight="700" font-size="22" textLength="33.5" lengthAdjust="spacingAndGlyphs" fill="#111" stroke="#111" stroke-width="0.7">1978</text>
<text transform="translate(551.9,1205.5) rotate(-70)" x="0" y="5.2" text-anchor="middle" font-family="'Liberation Sans', sans-serif" font-weight="700" font-size="22" textLength="33.5" lengthAdjust="spacingAndGlyphs" fill="#111" stroke="#111" stroke-width="0.7">1982</text>
<text transform="translate(601.4,1205.5) rotate(-70)" x="0" y="5.2" text-anchor="middle" font-family="'Liberation Sans', sans-serif" font-weight="700" font-size="22" textLength="33.5" lengthAdjust="spacingAndGlyphs" fill="#111" stroke="#111" stroke-width="0.7">1986</text>
<text transform="translate(650.8,1205.5) rotate(-70)" x="0" y="5.2" text-anchor="middle" font-family="'Liberation Sans', sans-serif" font-weight="700" font-size="22" textLength="33.5" lengthAdjust="spacingAndGlyphs" fill="#111" stroke="#111" stroke-width="0.7">1990</text>
<text transform="translate(700.3,1205.5) rotate(-70)" x="0" y="5.2" text-anchor="middle" font-family="'Liberation Sans', sans-serif" font-weight="700" font-size="22" textLength="33.5" lengthAdjust="spacingAndGlyphs" fill="#111" stroke="#111" stroke-width="0.7">1994</text>
<text transform="translate(749.8,1205.5) rotate(-70)" x="0" y="5.2" text-anchor="middle" font-family="'Liberation Sans', sans-serif" font-weight="700" font-size="22" textLength="33.5" lengthAdjust="spacingAndGlyphs" fill="#111" stroke="#111" stroke-width="0.7">1998</text>
<text transform="translate(799.2,1205.5) rotate(-70)" x="0" y="5.2" text-anchor="middle" font-family="'Liberation Sans', sans-serif" font-weight="700" font-size="22" textLength="33.5" lengthAdjust="spacingAndGlyphs" fill="#111" stroke="#111" stroke-width="0.7">2002</text>
<text transform="translate(848.7,1205.5) rotate(-70)" x="0" y="5.2" text-anchor="middle" font-family="'Liberation Sans', sans-serif" font-weight="700" font-size="22" textLength="33.5" lengthAdjust="spacingAndGlyphs" fill="#111" stroke="#111" stroke-width="0.7">2006</text>
<text transform="translate(898.2,1205.5) rotate(-70)" x="0" y="5.2" text-anchor="middle" font-family="'Liberation Sans', sans-serif" font-weight="700" font-size="22" textLength="33.5" lengthAdjust="spacingAndGlyphs" fill="#111" stroke="#111" stroke-width="0.7">2010</text>
<text transform="translate(947.6,1205.5) rotate(-70)" x="0" y="5.2" text-anchor="middle" font-family="'Liberation Sans', sans-serif" font-weight="700" font-size="22" textLength="33.5" lengthAdjust="spacingAndGlyphs" fill="#111" stroke="#111" stroke-width="0.7">2014</text>
<text transform="translate(997.1,1205.5) rotate(-70)" x="0" y="5.2" text-anchor="middle" font-family="'Liberation Sans', sans-serif" font-weight="700" font-size="22" textLength="33.5" lengthAdjust="spacingAndGlyphs" fill="#111" stroke="#111" stroke-width="0.7">2018</text>
<text transform="translate(1046.6,1205.5) rotate(-70)" x="0" y="5.2" text-anchor="middle" font-family="'Liberation Sans', sans-serif" font-weight="700" font-size="22" textLength="33.5" lengthAdjust="spacingAndGlyphs" fill="#111" stroke="#111" stroke-width="0.7">2022</text>
<text x="84.5" y="1270.5" font-family="'Liberation Sans', sans-serif" font-size="18.6" textLength="411" lengthAdjust="spacingAndGlyphs" fill="#f4f4f4">Source: govinfo.gov, Federal Register Statistics</text>
<text x="751" y="1281.3" font-family="'Liberation Sans', sans-serif" font-weight="700" font-size="24.7" textLength="45.5" lengthAdjust="spacingAndGlyphs" fill="#fff">THE</text>
<text x="801" y="1297" font-family="'Liberation Sans', sans-serif" font-weight="700" font-size="48.5" textLength="130.5" lengthAdjust="spacingAndGlyphs" fill="#fff">ATLAS</text>
<text x="943.5" y="1297" font-family="'Liberation Sans', sans-serif" font-weight="700" font-size="48.5" textLength="22" lengthAdjust="spacingAndGlyphs" fill="#fff">S</text>
<path d="M987 1263.8 A16.9 16.9 0 0 1 987 1297.6 Z" fill="#a02424"/>
<path d="M987 1264.3 A16.4 16.4 0 0 0 987 1297.1 M987 1267 Q974 1280.7 987 1294.4 M987 1270 Q980 1280.7 987 1291.4 M975 1272 L987 1280.7 L975 1289.4" fill="none" stroke="#c8644a" stroke-width="1.1"/>
<text x="1008" y="1297" font-family="'Liberation Sans', sans-serif" font-weight="700" font-size="48.5" textLength="123" lengthAdjust="spacingAndGlyphs" fill="#fff">CIETY</text>
<rect x="23" y="1262" width="1129" height="75" fill="url(#tearg)"/>
<path d="M23.0 1318.6 L25.6 1317.3 L29.3 1317.0 L32.5 1318.8 L35.0 1317.5 L37.7 1315.8 L40.2 1316.6 L42.8 1318.3 L46.8 1316.5 L48.6 1317.8 L52.0 1316.0 L55.0 1315.4 L56.7 1313.7 L59.1 1316.0 L62.0 1313.9 L64.2 1313.6 L68.2 1311.9 L70.0 1313.0 L72.9 1313.6 L74.6 1311.6 L77.1 1312.4 L80.7 1311.8 L82.2 1311.2 L85.0 1311.4 L87.7 1312.8 L89.8 1309.7 L91.8 1311.6 L95.3 1310.5 L97.6 1312.1 L100.0 1310.8 L102.8 1312.0 L106.2 1310.4 L109.0 1310.3 L111.1 1309.7 L114.2 1309.5 L117.0 1310.5 L119.2 1309.7 L122.3 1310.1 L124.9 1310.6 L128.0 1313.1 L129.9 1312.9 L133.0 1312.0 L135.1 1311.9 L138.3 1313.2 L140.5 1312.1 L143.6 1312.1 L147.4 1313.1 L149.5 1313.7 L151.9 1314.8 L154.4 1314.0 L157.5 1316.2 L160.9 1316.1 L162.5 1316.9 L166.0 1316.0 L168.5 1315.9 L171.9 1315.5 L174.4 1316.7 L176.0 1317.8 L178.9 1317.8 L182.0 1318.6 L184.1 1317.3 L186.6 1319.2 L189.9 1318.4 L192.1 1319.3 L194.9 1320.0 L198.0 1319.5 L200.9 1320.3 L202.9 1318.5 L206.3 1319.0 L208.5 1319.5 L210.9 1321.1 L214.0 1320.0 L216.4 1319.5 L218.6 1319.4 L222.2 1319.0 L225.2 1320.9 L227.0 1322.4 L230.0 1321.0 L233.4 1321.7 L235.8 1320.4 L239.0 1321.9 L240.6 1322.7 L243.2 1322.1 L246.6 1321.8 L249.0 1321.9 L251.5 1321.1 L254.3 1322.4 L256.3 1322.6 L259.4 1323.3 L262.0 1324.0 L265.1 1323.4 L267.0 1324.1 L270.4 1324.8 L273.5 1324.7 L276.3 1326.9 L279.0 1326.7 L280.9 1327.2 L284.1 1326.1 L286.8 1325.0 L289.7 1324.8 L292.3 1326.4 L295.0 1326.0 L297.3 1325.3 L300.1 1324.1 L303.1 1326.8 L305.9 1324.6 L308.3 1324.2 L311.0 1325.0 L314.4 1325.1 L316.5 1324.1 L319.4 1325.7 L321.9 1324.4 L324.2 1323.5 L327.0 1323.5 L330.3 1322.5 L332.4 1324.1 L334.6 1324.0 L338.1 1321.2 L340.7 1321.5 L343.7 1321.8 L345.9 1323.4 L348.7 1321.0 L351.4 1322.7 L354.6 1320.7 L356.9 1322.0 L360.0 1322.5 L362.9 1322.6 L365.5 1323.0 L368.5 1323.1 L370.4 1324.6 L374.0 1322.8 L376.0 1323.4 L379.1 1321.8 L381.9 1322.1 L384.9 1322.0 L387.4 1318.5 L390.0 1318.6 L392.8 1318.2 L395.0 1317.5 L398.1 1318.3 L400.3 1316.4 L402.8 1316.3 L406.0 1316.5 L408.1 1316.3 L410.6 1314.6 L414.3 1314.5 L416.6 1314.3 L419.3 1316.1 L422.0 1315.0 L425.3 1313.4 L426.6 1315.2 L430.0 1312.7 L432.5 1313.9 L434.9 1313.2 L438.0 1312.0 L440.6 1312.2 L444.1 1310.4 L447.0 1311.5 L449.2 1310.1 L452.4 1310.0 L455.0 1308.8 L458.0 1308.9 L459.8 1305.7 L462.1 1306.4 L464.2 1303.9 L468.2 1304.2 L470.0 1303.0 L471.8 1303.7 L474.7 1302.0 L477.1 1301.1 L480.5 1301.2 L482.5 1297.6 L483.8 1297.1 L487.0 1297.5 L490.0 1296.7 L491.7 1298.9 L494.2 1296.7 L497.6 1297.3 L500.0 1296.7 L503.0 1297.0 L506.3 1298.0 L508.3 1296.5 L511.7 1297.6 L513.8 1298.9 L516.8 1298.0 L519.5 1297.5 L521.5 1298.8 L524.0 1297.1 L526.9 1299.9 L529.2 1298.8 L531.6 1298.6 L535.0 1299.5 L537.3 1300.1 L540.3 1300.7 L543.5 1299.9 L545.9 1300.7 L548.5 1300.1 L552.0 1302.0 L554.4 1303.9 L556.8 1302.0 L560.8 1303.9 L563.3 1303.7 L565.2 1305.3 L568.0 1306.0 L570.5 1307.7 L573.4 1306.1 L576.2 1308.8 L579.4 1308.3 L582.1 1310.9 L584.0 1310.5 L587.2 1310.7 L588.8 1312.1 L591.5 1310.2 L594.0 1310.9 L597.7 1312.1 L600.0 1313.0 L602.8 1312.8 L605.1 1312.2 L607.5 1315.6 L611.6 1314.6 L614.2 1315.9 L616.6 1315.3 L619.8 1315.4 L622.5 1317.2 L624.2 1318.2 L627.4 1318.5 L629.9 1318.2 L633.0 1318.0 L634.9 1319.6 L637.9 1318.9 L640.8 1318.6 L644.2 1319.8 L646.6 1319.2 L649.0 1320.0 L651.3 1319.9 L654.0 1322.1 L656.7 1320.0 L659.2 1322.4 L662.4 1322.9 L665.0 1322.5 L667.2 1323.5 L669.8 1322.1 L672.9 1323.3 L675.7 1322.6 L678.0 1324.3 L681.0 1325.0 L684.4 1325.4 L686.9 1324.7 L689.4 1325.3 L692.4 1324.9 L695.1 1326.3 L697.0 1326.8 L699.6 1326.2 L702.1 1328.0 L705.6 1326.8 L707.8 1329.2 L710.7 1327.0 L713.7 1328.3 L715.9 1330.4 L718.9 1329.8 L721.4 1330.4 L725.2 1330.8 L727.5 1332.1 L730.0 1331.5 L732.8 1332.0 L735.9 1331.3 L737.9 1333.7 L740.5 1334.2 L742.9 1333.8 L746.0 1334.7 L748.8 1335.1 L750.6 1334.9 L753.9 1335.4 L756.8 1335.4 L758.8 1336.6 L762.8 1335.2 L764.4 1336.2 L768.1 1336.3 L770.0 1335.6 L773.3 1334.7 L776.1 1333.2 L777.6 1333.8 L780.9 1334.3 L783.9 1334.0 L786.0 1332.0 L788.9 1332.5 L791.0 1332.6 L794.8 1331.7 L797.8 1329.2 L800.2 1329.4 L803.0 1329.0 L805.3 1330.0 L808.9 1328.0 L811.6 1327.1 L814.3 1329.3 L817.6 1327.3 L820.0 1328.0 L823.0 1329.0 L825.8 1328.0 L827.2 1328.6 L829.8 1327.2 L832.8 1326.0 L835.6 1327.4 L838.9 1328.4 L840.6 1325.9 L844.4 1326.6 L847.2 1327.2 L850.0 1325.3 L852.0 1326.5 L854.9 1325.4 L857.7 1327.5 L860.3 1325.2 L861.9 1325.8 L865.0 1325.4 L868.0 1325.8 L870.5 1326.3 L874.0 1326.4 L875.9 1325.2 L879.3 1327.0 L881.6 1325.3 L885.0 1326.6 L887.8 1328.1 L889.8 1326.4 L893.3 1328.6 L895.4 1327.9 L898.2 1326.7 L901.0 1327.4 L904.0 1326.4 L907.2 1327.4 L909.4 1327.5 L913.0 1328.0 L915.5 1327.6 L918.0 1328.2 L920.8 1327.5 L923.9 1327.8 L926.6 1327.9 L928.6 1329.3 L931.2 1330.3 L934.0 1329.0 L936.8 1329.7 L938.6 1328.7 L941.7 1328.6 L945.4 1328.6 L947.6 1328.1 L950.0 1328.7 L952.4 1329.2 L955.1 1328.3 L958.1 1329.8 L961.1 1328.2 L964.7 1329.5 L967.0 1328.4 L969.7 1328.6 L973.0 1327.0 L974.8 1326.9 L978.0 1327.7 L980.1 1328.6 L983.0 1328.0 L986.5 1329.2 L988.7 1326.3 L991.1 1327.6 L993.8 1327.5 L997.0 1328.0 L999.6 1327.4 L1003.0 1327.6 L1004.6 1326.3 L1007.6 1324.4 L1010.0 1322.0 L1013.0 1321.1 L1014.4 1317.6 L1017.0 1317.2 L1019.0 1316.0 L1022.1 1312.8 L1023.5 1310.4 L1026.0 1309.0 L1027.8 1306.3 L1029.3 1306.7 L1032.0 1304.4 L1034.9 1302.5 L1037.7 1303.2 L1040.0 1302.0 L1043.5 1300.9 L1046.4 1302.1 L1049.0 1301.0 L1051.6 1299.9 L1054.9 1299.8 L1057.6 1302.9 L1059.4 1300.1 L1062.4 1301.9 L1065.0 1302.0 L1068.2 1301.2 L1070.5 1302.2 L1073.4 1302.0 L1075.4 1302.4 L1078.5 1304.0 L1081.6 1304.4 L1083.9 1306.1 L1086.4 1305.7 L1089.7 1305.8 L1092.5 1307.7 L1094.6 1309.4 L1098.0 1309.0 L1100.1 1311.0 L1103.4 1312.3 L1106.2 1311.4 L1109.4 1313.7 L1110.6 1313.1 L1114.0 1314.3 L1117.2 1314.1 L1119.7 1317.0 L1122.0 1316.1 L1124.0 1316.6 L1128.1 1318.4 L1130.0 1320.0 L1133.0 1321.3 L1134.7 1320.2 L1136.9 1321.1 L1140.4 1322.1 L1142.1 1323.6 L1145.2 1325.5 L1147.0 1325.8 L1149.6 1327.8 L1152 1327 L1152 1519 L23 1519 Z" fill="none" stroke="#2c2c2e" stroke-width="10" opacity="0.55" filter="url(#bl2)"/>
<path d="M23.0 1318.6 L25.6 1317.3 L29.3 1317.0 L32.5 1318.8 L35.0 1317.5 L37.7 1315.8 L40.2 1316.6 L42.8 1318.3 L46.8 1316.5 L48.6 1317.8 L52.0 1316.0 L55.0 1315.4 L56.7 1313.7 L59.1 1316.0 L62.0 1313.9 L64.2 1313.6 L68.2 1311.9 L70.0 1313.0 L72.9 1313.6 L74.6 1311.6 L77.1 1312.4 L80.7 1311.8 L82.2 1311.2 L85.0 1311.4 L87.7 1312.8 L89.8 1309.7 L91.8 1311.6 L95.3 1310.5 L97.6 1312.1 L100.0 1310.8 L102.8 1312.0 L106.2 1310.4 L109.0 1310.3 L111.1 1309.7 L114.2 1309.5 L117.0 1310.5 L119.2 1309.7 L122.3 1310.1 L124.9 1310.6 L128.0 1313.1 L129.9 1312.9 L133.0 1312.0 L135.1 1311.9 L138.3 1313.2 L140.5 1312.1 L143.6 1312.1 L147.4 1313.1 L149.5 1313.7 L151.9 1314.8 L154.4 1314.0 L157.5 1316.2 L160.9 1316.1 L162.5 1316.9 L166.0 1316.0 L168.5 1315.9 L171.9 1315.5 L174.4 1316.7 L176.0 1317.8 L178.9 1317.8 L182.0 1318.6 L184.1 1317.3 L186.6 1319.2 L189.9 1318.4 L192.1 1319.3 L194.9 1320.0 L198.0 1319.5 L200.9 1320.3 L202.9 1318.5 L206.3 1319.0 L208.5 1319.5 L210.9 1321.1 L214.0 1320.0 L216.4 1319.5 L218.6 1319.4 L222.2 1319.0 L225.2 1320.9 L227.0 1322.4 L230.0 1321.0 L233.4 1321.7 L235.8 1320.4 L239.0 1321.9 L240.6 1322.7 L243.2 1322.1 L246.6 1321.8 L249.0 1321.9 L251.5 1321.1 L254.3 1322.4 L256.3 1322.6 L259.4 1323.3 L262.0 1324.0 L265.1 1323.4 L267.0 1324.1 L270.4 1324.8 L273.5 1324.7 L276.3 1326.9 L279.0 1326.7 L280.9 1327.2 L284.1 1326.1 L286.8 1325.0 L289.7 1324.8 L292.3 1326.4 L295.0 1326.0 L297.3 1325.3 L300.1 1324.1 L303.1 1326.8 L305.9 1324.6 L308.3 1324.2 L311.0 1325.0 L314.4 1325.1 L316.5 1324.1 L319.4 1325.7 L321.9 1324.4 L324.2 1323.5 L327.0 1323.5 L330.3 1322.5 L332.4 1324.1 L334.6 1324.0 L338.1 1321.2 L340.7 1321.5 L343.7 1321.8 L345.9 1323.4 L348.7 1321.0 L351.4 1322.7 L354.6 1320.7 L356.9 1322.0 L360.0 1322.5 L362.9 1322.6 L365.5 1323.0 L368.5 1323.1 L370.4 1324.6 L374.0 1322.8 L376.0 1323.4 L379.1 1321.8 L381.9 1322.1 L384.9 1322.0 L387.4 1318.5 L390.0 1318.6 L392.8 1318.2 L395.0 1317.5 L398.1 1318.3 L400.3 1316.4 L402.8 1316.3 L406.0 1316.5 L408.1 1316.3 L410.6 1314.6 L414.3 1314.5 L416.6 1314.3 L419.3 1316.1 L422.0 1315.0 L425.3 1313.4 L426.6 1315.2 L430.0 1312.7 L432.5 1313.9 L434.9 1313.2 L438.0 1312.0 L440.6 1312.2 L444.1 1310.4 L447.0 1311.5 L449.2 1310.1 L452.4 1310.0 L455.0 1308.8 L458.0 1308.9 L459.8 1305.7 L462.1 1306.4 L464.2 1303.9 L468.2 1304.2 L470.0 1303.0 L471.8 1303.7 L474.7 1302.0 L477.1 1301.1 L480.5 1301.2 L482.5 1297.6 L483.8 1297.1 L487.0 1297.5 L490.0 1296.7 L491.7 1298.9 L494.2 1296.7 L497.6 1297.3 L500.0 1296.7 L503.0 1297.0 L506.3 1298.0 L508.3 1296.5 L511.7 1297.6 L513.8 1298.9 L516.8 1298.0 L519.5 1297.5 L521.5 1298.8 L524.0 1297.1 L526.9 1299.9 L529.2 1298.8 L531.6 1298.6 L535.0 1299.5 L537.3 1300.1 L540.3 1300.7 L543.5 1299.9 L545.9 1300.7 L548.5 1300.1 L552.0 1302.0 L554.4 1303.9 L556.8 1302.0 L560.8 1303.9 L563.3 1303.7 L565.2 1305.3 L568.0 1306.0 L570.5 1307.7 L573.4 1306.1 L576.2 1308.8 L579.4 1308.3 L582.1 1310.9 L584.0 1310.5 L587.2 1310.7 L588.8 1312.1 L591.5 1310.2 L594.0 1310.9 L597.7 1312.1 L600.0 1313.0 L602.8 1312.8 L605.1 1312.2 L607.5 1315.6 L611.6 1314.6 L614.2 1315.9 L616.6 1315.3 L619.8 1315.4 L622.5 1317.2 L624.2 1318.2 L627.4 1318.5 L629.9 1318.2 L633.0 1318.0 L634.9 1319.6 L637.9 1318.9 L640.8 1318.6 L644.2 1319.8 L646.6 1319.2 L649.0 1320.0 L651.3 1319.9 L654.0 1322.1 L656.7 1320.0 L659.2 1322.4 L662.4 1322.9 L665.0 1322.5 L667.2 1323.5 L669.8 1322.1 L672.9 1323.3 L675.7 1322.6 L678.0 1324.3 L681.0 1325.0 L684.4 1325.4 L686.9 1324.7 L689.4 1325.3 L692.4 1324.9 L695.1 1326.3 L697.0 1326.8 L699.6 1326.2 L702.1 1328.0 L705.6 1326.8 L707.8 1329.2 L710.7 1327.0 L713.7 1328.3 L715.9 1330.4 L718.9 1329.8 L721.4 1330.4 L725.2 1330.8 L727.5 1332.1 L730.0 1331.5 L732.8 1332.0 L735.9 1331.3 L737.9 1333.7 L740.5 1334.2 L742.9 1333.8 L746.0 1334.7 L748.8 1335.1 L750.6 1334.9 L753.9 1335.4 L756.8 1335.4 L758.8 1336.6 L762.8 1335.2 L764.4 1336.2 L768.1 1336.3 L770.0 1335.6 L773.3 1334.7 L776.1 1333.2 L777.6 1333.8 L780.9 1334.3 L783.9 1334.0 L786.0 1332.0 L788.9 1332.5 L791.0 1332.6 L794.8 1331.7 L797.8 1329.2 L800.2 1329.4 L803.0 1329.0 L805.3 1330.0 L808.9 1328.0 L811.6 1327.1 L814.3 1329.3 L817.6 1327.3 L820.0 1328.0 L823.0 1329.0 L825.8 1328.0 L827.2 1328.6 L829.8 1327.2 L832.8 1326.0 L835.6 1327.4 L838.9 1328.4 L840.6 1325.9 L844.4 1326.6 L847.2 1327.2 L850.0 1325.3 L852.0 1326.5 L854.9 1325.4 L857.7 1327.5 L860.3 1325.2 L861.9 1325.8 L865.0 1325.4 L868.0 1325.8 L870.5 1326.3 L874.0 1326.4 L875.9 1325.2 L879.3 1327.0 L881.6 1325.3 L885.0 1326.6 L887.8 1328.1 L889.8 1326.4 L893.3 1328.6 L895.4 1327.9 L898.2 1326.7 L901.0 1327.4 L904.0 1326.4 L907.2 1327.4 L909.4 1327.5 L913.0 1328.0 L915.5 1327.6 L918.0 1328.2 L920.8 1327.5 L923.9 1327.8 L926.6 1327.9 L928.6 1329.3 L931.2 1330.3 L934.0 1329.0 L936.8 1329.7 L938.6 1328.7 L941.7 1328.6 L945.4 1328.6 L947.6 1328.1 L950.0 1328.7 L952.4 1329.2 L955.1 1328.3 L958.1 1329.8 L961.1 1328.2 L964.7 1329.5 L967.0 1328.4 L969.7 1328.6 L973.0 1327.0 L974.8 1326.9 L978.0 1327.7 L980.1 1328.6 L983.0 1328.0 L986.5 1329.2 L988.7 1326.3 L991.1 1327.6 L993.8 1327.5 L997.0 1328.0 L999.6 1327.4 L1003.0 1327.6 L1004.6 1326.3 L1007.6 1324.4 L1010.0 1322.0 L1013.0 1321.1 L1014.4 1317.6 L1017.0 1317.2 L1019.0 1316.0 L1022.1 1312.8 L1023.5 1310.4 L1026.0 1309.0 L1027.8 1306.3 L1029.3 1306.7 L1032.0 1304.4 L1034.9 1302.5 L1037.7 1303.2 L1040.0 1302.0 L1043.5 1300.9 L1046.4 1302.1 L1049.0 1301.0 L1051.6 1299.9 L1054.9 1299.8 L1057.6 1302.9 L1059.4 1300.1 L1062.4 1301.9 L1065.0 1302.0 L1068.2 1301.2 L1070.5 1302.2 L1073.4 1302.0 L1075.4 1302.4 L1078.5 1304.0 L1081.6 1304.4 L1083.9 1306.1 L1086.4 1305.7 L1089.7 1305.8 L1092.5 1307.7 L1094.6 1309.4 L1098.0 1309.0 L1100.1 1311.0 L1103.4 1312.3 L1106.2 1311.4 L1109.4 1313.7 L1110.6 1313.1 L1114.0 1314.3 L1117.2 1314.1 L1119.7 1317.0 L1122.0 1316.1 L1124.0 1316.6 L1128.1 1318.4 L1130.0 1320.0 L1133.0 1321.3 L1134.7 1320.2 L1136.9 1321.1 L1140.4 1322.1 L1142.1 1323.6 L1145.2 1325.5 L1147.0 1325.8 L1149.6 1327.8 L1152 1327 L1152 1519 L23 1519 Z" fill="#fff"/>
<path d="M70.0 1289.3 L68.6 1290.0 L67.4 1290.4 L65.2 1289.6 L65.4 1289.0 L66.4 1288.4 L68.8 1288.7 Z M121.7 1304.4 L120.8 1305.3 L119.7 1305.8 L118.3 1305.7 L117.3 1305.5 L118.8 1304.3 L120.5 1303.7 Z M79.3 1300.4 L76.8 1301.8 L75.4 1301.6 L74.0 1299.6 L72.6 1298.5 L76.1 1298.5 L77.2 1299.1 Z M56.2 1304.0 L55.0 1305.0 L53.2 1304.7 L52.2 1303.6 L52.5 1303.0 L54.1 1302.5 L55.6 1303.1 Z M91.2 1289.0 L91.2 1289.6 L90.1 1290.3 L89.2 1290.4 L88.8 1289.6 L89.7 1288.7 L90.7 1288.6 Z M139.9 1284.6 L138.6 1285.2 L134.7 1284.9 L133.1 1284.0 L132.5 1283.3 L134.4 1283.0 L137.6 1283.6 Z M88.3 1303.8 L87.6 1304.2 L86.5 1304.1 L84.9 1303.8 L85.1 1303.1 L86.4 1303.0 L87.8 1303.0 Z M100.4 1303.9 L100.1 1304.3 L98.4 1304.5 L97.5 1304.1 L97.9 1303.5 L98.9 1303.3 L100.2 1303.6 Z M106.3 1287.0 L106.6 1288.7 L103.8 1289.4 L101.1 1289.6 L101.8 1288.2 L102.9 1287.1 L105.4 1286.3 Z M101.2 1307.8 L100.5 1308.3 L100.1 1308.4 L98.4 1308.8 L98.8 1308.2 L99.5 1308.0 L100.6 1307.7 Z M46.5 1283.0 L45.6 1282.9 L44.5 1282.5 L44.0 1282.1 L43.7 1281.8 L45.0 1282.0 L45.7 1282.6 Z M100.6 1302.9 L101.0 1303.5 L97.2 1302.0 L95.2 1301.0 L94.9 1300.1 L98.1 1301.1 L100.5 1302.0 Z M79.0 1301.2 L78.6 1301.6 L76.0 1301.4 L75.6 1300.9 L74.7 1300.5 L77.0 1300.3 L78.3 1300.6 Z M140.2 1306.2 L138.9 1306.9 L136.3 1305.8 L135.7 1305.3 L135.2 1304.0 L137.8 1304.0 L139.0 1304.5 Z M121.8 1307.3 L120.0 1307.3 L117.8 1307.6 L116.5 1306.5 L117.6 1305.1 L118.9 1304.8 L120.4 1305.8 Z M59.3 1304.0 L58.7 1304.7 L54.8 1303.5 L53.2 1302.6 L53.9 1302.1 L55.3 1301.6 L58.7 1302.7 Z M74.2 1296.2 L73.6 1297.0 L72.9 1297.2 L72.4 1296.8 L71.7 1296.5 L73.0 1295.7 L73.6 1295.9 Z M118.6 1295.1 L117.6 1296.0 L114.8 1295.2 L109.9 1292.6 L110.5 1290.8 L115.9 1292.7 L118.6 1294.0 Z M43.2 1309.7 L42.2 1309.7 L39.9 1309.2 L40.2 1308.7 L39.9 1308.0 L41.9 1308.0 L42.6 1309.0 Z M121.2 1300.4 L118.2 1301.9 L115.1 1303.2 L113.4 1303.3 L113.0 1302.6 L115.1 1301.4 L117.5 1300.8 Z M107.0 1283.4 L104.9 1283.9 L103.5 1283.2 L101.2 1282.1 L102.0 1280.9 L103.6 1281.4 L106.0 1282.5 Z M99.9 1285.9 L99.2 1286.5 L98.3 1286.7 L97.2 1286.1 L97.1 1285.7 L97.9 1285.1 L99.1 1285.1 Z M36.4 1306.5 L36.8 1307.8 L33.0 1308.7 L32.8 1308.1 L32.8 1306.8 L34.0 1306.1 L35.8 1306.3 Z M119.4 1291.4 L118.7 1292.1 L118.2 1292.1 L117.4 1292.0 L117.7 1291.2 L118.0 1291.1 L119.1 1291.0 Z M61.3 1287.8 L60.3 1289.0 L57.7 1288.7 L55.6 1287.9 L55.4 1286.5 L58.2 1286.8 L61.5 1287.2 Z M127.8 1288.8 L127.5 1289.3 L125.4 1290.1 L124.0 1290.4 L123.5 1289.6 L124.7 1289.1 L126.8 1288.5 Z M37.8 1306.5 L36.2 1307.7 L34.7 1307.7 L30.8 1307.4 L31.7 1306.2 L34.5 1305.1 L36.5 1304.9 Z M94.4 1296.7 L93.8 1298.1 L92.2 1297.8 L90.8 1296.9 L90.2 1295.3 L91.8 1295.0 L94.1 1296.1 Z M123.3 1308.2 L121.5 1309.1 L120.4 1309.2 L118.0 1308.8 L118.3 1307.4 L120.4 1307.0 L121.4 1307.3 Z M136.6 1308.0 L136.5 1308.6 L135.4 1308.8 L133.2 1308.6 L133.7 1307.8 L135.1 1307.2 L136.3 1307.7 Z M308.7 1307.2 L307.8 1307.7 L305.6 1306.8 L304.5 1306.2 L304.6 1305.2 L307.3 1305.4 L308.3 1305.9 Z M279.7 1303.4 L279.7 1303.8 L278.4 1304.1 L277.7 1303.9 L277.6 1303.5 L278.5 1303.1 L279.5 1303.1 Z M222.3 1305.8 L221.3 1306.3 L220.2 1306.4 L218.8 1306.1 L218.9 1305.4 L220.2 1305.4 L222.1 1305.5 Z M159.0 1308.8 L158.0 1309.2 L155.9 1310.1 L153.3 1310.3 L153.9 1309.4 L155.7 1308.6 L157.9 1308.4 Z M346.6 1316.1 L346.6 1317.6 L344.1 1318.6 L341.6 1318.8 L341.9 1317.2 L342.9 1315.9 L345.2 1315.4 Z M243.3 1313.9 L242.6 1314.2 L241.3 1314.3 L240.2 1313.2 L240.5 1312.4 L241.9 1312.2 L242.9 1313.3 Z M251.8 1322.0 L251.5 1322.3 L250.7 1322.3 L250.2 1322.0 L250.1 1321.7 L250.6 1321.3 L251.4 1321.5 Z M167.7 1309.9 L167.0 1310.2 L164.5 1309.3 L163.3 1308.6 L163.9 1308.2 L166.2 1308.1 L166.9 1308.9 Z M376.3 1316.0 L375.4 1317.6 L372.5 1317.8 L368.3 1317.4 L367.3 1316.2 L372.0 1315.5 L375.4 1314.9 Z M220.6 1316.7 L220.4 1317.0 L219.6 1317.1 L218.6 1316.8 L218.9 1316.3 L219.4 1316.2 L220.3 1316.3 Z M168.1 1304.5 L167.1 1305.2 L164.9 1304.7 L163.9 1304.0 L162.5 1302.9 L165.8 1303.1 L167.9 1303.8 Z M156.8 1321.5 L155.8 1322.6 L153.6 1322.5 L151.2 1321.3 L150.4 1320.4 L153.4 1320.1 L155.9 1320.8 Z M328.7 1305.7 L328.0 1306.1 L325.6 1305.6 L325.1 1305.1 L324.9 1304.5 L326.4 1304.7 L328.2 1304.9 Z M232.5 1305.4 L232.6 1305.8 L231.5 1306.3 L230.4 1306.4 L229.8 1306.2 L231.1 1305.5 L231.9 1305.1 Z M239.7 1322.6 L239.1 1323.2 L237.1 1323.8 L236.5 1323.7 L236.4 1323.1 L237.9 1322.5 L239.3 1322.2 Z M212.1 1318.2 L212.6 1318.8 L210.2 1319.5 L208.5 1319.4 L208.1 1318.6 L209.6 1318.0 L211.3 1317.8 Z M174.7 1317.9 L173.8 1317.9 L172.7 1318.2 L171.3 1317.1 L171.2 1316.4 L172.8 1316.4 L174.1 1317.0 Z M304.8 1304.5 L304.6 1304.9 L303.2 1304.9 L302.2 1304.5 L302.3 1303.9 L303.6 1303.7 L304.7 1304.2 Z M254.0 1316.6 L253.5 1317.4 L252.9 1317.2 L251.7 1316.8 L251.6 1315.7 L253.2 1315.7 L254.1 1316.0 Z M335.8 1320.0 L335.2 1320.7 L334.0 1320.7 L333.3 1320.6 L333.1 1319.6 L334.4 1319.2 L335.1 1319.4 Z M324.3 1319.5 L324.0 1320.0 L322.4 1320.0 L321.4 1319.6 L321.1 1318.6 L322.2 1318.6 L323.9 1318.8 Z M386.2 1308.5 L385.0 1309.1 L383.2 1309.1 L381.1 1308.5 L381.0 1307.9 L382.4 1307.9 L384.5 1308.1 Z M157.4 1306.1 L156.8 1306.7 L155.9 1307.1 L153.7 1307.6 L153.7 1307.3 L155.6 1306.1 L156.3 1306.0 Z M255.0 1304.9 L253.6 1305.5 L252.7 1305.5 L251.4 1305.3 L251.8 1303.8 L252.3 1303.3 L254.6 1303.8 Z M187.1 1318.1 L186.6 1318.9 L183.5 1320.3 L181.7 1319.9 L180.1 1319.3 L183.3 1317.7 L187.3 1317.0 Z M269.6 1311.7 L269.8 1312.1 L268.7 1312.4 L267.7 1312.6 L267.7 1312.0 L268.2 1311.3 L269.3 1311.3 Z M216.4 1315.8 L214.5 1316.5 L213.5 1316.7 L211.7 1316.3 L211.9 1315.8 L212.9 1315.1 L216.0 1315.1 Z M368.9 1322.0 L368.2 1323.4 L363.8 1325.4 L362.2 1325.1 L360.6 1324.4 L363.1 1322.9 L367.1 1321.3 Z M164.2 1315.9 L163.6 1316.3 L161.1 1316.5 L160.0 1316.4 L160.5 1315.6 L161.8 1315.2 L163.6 1315.3 Z M199.9 1313.3 L200.2 1313.8 L198.7 1314.5 L197.9 1314.3 L197.6 1313.8 L198.0 1313.5 L199.4 1313.1 Z M391.5 1312.5 L391.8 1313.5 L390.0 1314.7 L387.8 1314.7 L387.5 1313.4 L389.1 1312.2 L391.3 1311.7 Z M185.8 1318.3 L184.9 1319.2 L182.9 1318.3 L182.0 1317.6 L181.4 1316.7 L182.7 1316.6 L185.2 1317.8 Z M193.8 1308.9 L193.0 1310.2 L190.3 1311.9 L188.2 1312.1 L187.4 1311.3 L189.3 1309.9 L191.9 1309.5 Z M232.2 1302.0 L230.8 1303.8 L228.9 1304.6 L226.5 1305.0 L226.4 1304.0 L227.5 1303.3 L230.2 1301.8 Z M294.5 1301.1 L294.4 1301.5 L293.0 1301.5 L291.5 1301.3 L292.1 1300.9 L293.1 1300.5 L294.0 1300.6 Z M211.7 1312.2 L210.2 1314.2 L207.6 1315.2 L206.1 1315.1 L204.8 1314.2 L207.7 1312.4 L209.5 1311.8 Z M334.4 1311.8 L334.6 1313.0 L331.9 1313.2 L330.6 1312.9 L330.4 1312.1 L330.7 1311.2 L333.7 1311.3 Z M289.0 1307.1 L288.3 1307.6 L287.4 1307.8 L287.2 1307.6 L286.6 1307.1 L287.4 1306.7 L288.6 1306.6 Z M159.8 1310.4 L159.1 1311.8 L157.6 1312.6 L154.8 1313.4 L155.5 1312.0 L156.8 1310.4 L158.7 1310.5 Z M352.0 1321.2 L351.0 1321.5 L350.2 1321.7 L349.1 1321.2 L349.3 1320.7 L349.8 1320.5 L351.1 1320.4 Z M229.1 1311.2 L227.8 1312.2 L226.8 1313.1 L225.8 1312.8 L225.3 1312.4 L226.6 1311.2 L228.2 1310.6 Z M282.5 1313.9 L281.9 1314.9 L279.2 1315.1 L276.6 1315.0 L277.7 1314.1 L279.1 1313.0 L280.8 1313.3 Z M265.8 1315.4 L265.6 1316.0 L264.2 1317.2 L261.8 1316.7 L261.6 1315.3 L262.5 1314.9 L265.9 1313.9 Z M184.5 1300.8 L183.3 1302.0 L181.8 1302.6 L179.9 1301.8 L179.4 1300.4 L181.3 1298.9 L183.2 1299.2 Z M250.2 1321.1 L249.1 1322.2 L245.3 1323.5 L242.6 1323.7 L242.7 1322.6 L244.4 1321.3 L249.0 1320.9 Z M521.1 1309.6 L519.8 1310.0 L518.1 1309.8 L517.0 1308.9 L517.1 1308.0 L519.2 1308.4 L521.1 1309.1 Z M446.3 1287.4 L445.3 1287.4 L443.5 1286.8 L441.9 1286.2 L442.2 1285.7 L444.3 1286.4 L445.4 1286.7 Z M511.5 1285.6 L511.1 1287.2 L509.1 1288.1 L507.2 1288.3 L506.1 1287.7 L507.2 1286.4 L509.7 1286.0 Z M457.5 1302.1 L455.3 1301.6 L452.7 1300.8 L450.0 1299.5 L449.9 1297.8 L452.9 1298.6 L456.8 1300.1 Z M489.3 1302.1 L488.7 1303.8 L483.7 1302.8 L481.1 1301.4 L482.3 1300.0 L484.2 1299.1 L487.7 1300.3 Z M458.1 1293.1 L457.7 1293.5 L456.6 1293.5 L455.6 1292.9 L455.7 1292.2 L457.4 1291.9 L458.6 1292.2 Z M437.6 1303.3 L435.6 1304.7 L432.7 1305.4 L430.6 1305.0 L429.3 1303.4 L432.5 1301.9 L435.9 1302.1 Z M435.5 1290.4 L435.9 1291.5 L430.4 1291.9 L425.7 1290.4 L428.7 1289.1 L429.9 1287.9 L434.4 1289.1 Z M421.4 1293.0 L421.6 1293.7 L419.9 1293.7 L418.9 1293.4 L419.5 1292.7 L420.2 1292.4 L421.1 1292.6 Z M457.5 1295.4 L456.9 1296.2 L456.0 1296.2 L454.9 1295.6 L454.4 1294.9 L455.6 1294.8 L457.6 1295.0 Z M459.1 1286.7 L457.6 1288.0 L456.1 1288.5 L454.3 1287.8 L454.0 1286.7 L455.3 1286.1 L457.2 1286.3 Z M523.0 1296.9 L521.4 1298.1 L518.2 1297.6 L516.2 1296.6 L517.1 1295.4 L519.3 1294.8 L522.5 1296.0 Z M464.5 1287.6 L464.6 1289.1 L461.0 1288.4 L457.4 1286.7 L457.2 1285.8 L461.3 1285.5 L463.3 1285.9 Z M469.8 1300.3 L470.6 1302.0 L464.1 1304.4 L460.0 1304.7 L458.8 1302.5 L462.1 1300.7 L465.4 1299.9 Z M541.2 1307.2 L540.6 1308.5 L537.6 1310.0 L535.4 1309.9 L535.0 1308.7 L536.2 1308.0 L539.7 1306.7 Z M490.9 1295.7 L490.2 1296.1 L487.4 1295.8 L486.2 1295.2 L486.6 1294.5 L488.3 1294.5 L489.7 1294.9 Z M550.7 1302.1 L548.5 1303.2 L545.4 1302.8 L544.6 1302.2 L543.1 1299.8 L546.2 1299.7 L550.1 1300.2 Z M509.4 1290.7 L508.9 1290.8 L507.8 1290.5 L506.8 1290.0 L507.3 1289.9 L508.2 1289.8 L508.9 1290.3 Z M459.7 1304.0 L458.6 1304.3 L457.0 1304.4 L455.1 1304.2 L456.1 1303.6 L457.0 1303.5 L459.2 1303.5 Z M551.3 1288.5 L551.8 1289.7 L547.1 1289.5 L545.7 1288.7 L544.2 1287.7 L547.0 1287.1 L550.4 1288.0 Z M451.8 1299.0 L451.0 1299.3 L449.1 1299.1 L447.8 1298.3 L447.6 1297.9 L449.0 1297.7 L451.2 1298.3 Z M456.4 1297.6 L454.0 1297.9 L452.9 1297.3 L451.2 1295.9 L451.0 1295.0 L452.5 1295.1 L454.8 1296.0 Z M480.6 1295.5 L480.1 1296.4 L479.0 1296.9 L476.9 1297.2 L476.9 1296.5 L477.7 1295.9 L479.1 1295.6 Z M402.2 1296.3 L402.3 1297.7 L399.8 1298.2 L398.2 1298.7 L398.5 1296.9 L399.1 1295.7 L401.5 1295.5 Z M531.1 1298.7 L531.4 1300.4 L528.1 1300.7 L526.7 1300.0 L526.2 1298.6 L527.3 1296.3 L531.6 1297.2 Z M479.8 1300.3 L476.7 1302.1 L474.0 1302.0 L470.4 1300.2 L469.9 1298.1 L474.0 1298.5 L479.4 1299.1 Z M550.4 1306.9 L546.4 1308.1 L541.8 1308.6 L540.3 1307.3 L539.6 1305.8 L541.9 1305.1 L546.4 1305.5 Z M475.1 1293.4 L472.4 1294.2 L468.1 1293.5 L467.9 1292.6 L466.7 1291.1 L469.5 1291.1 L474.2 1292.3 Z M396.6 1299.7 L396.3 1300.0 L395.6 1300.3 L395.0 1299.9 L395.0 1299.7 L395.6 1299.2 L396.4 1299.2 Z M416.3 1304.9 L416.4 1305.2 L414.5 1305.7 L413.6 1305.6 L413.7 1305.1 L414.9 1304.8 L415.8 1304.7 Z M484.1 1286.5 L483.8 1286.9 L480.8 1286.3 L479.4 1285.7 L480.1 1285.0 L481.0 1285.1 L483.9 1285.8 Z M457.8 1305.3 L457.3 1306.2 L454.6 1306.2 L451.5 1304.5 L451.4 1303.4 L455.0 1303.0 L456.5 1304.1 Z M453.2 1290.2 L453.3 1291.4 L446.9 1290.9 L443.5 1289.8 L443.5 1288.8 L449.2 1288.3 L453.9 1289.2 Z M462.8 1311.5 L459.9 1313.4 L458.1 1314.2 L454.5 1314.2 L454.8 1313.3 L456.5 1312.4 L459.5 1311.4 Z M556.0 1312.4 L555.7 1313.1 L554.5 1313.8 L553.2 1313.4 L552.6 1313.2 L553.8 1312.1 L555.6 1311.9 Z M450.3 1291.0 L450.1 1292.2 L445.9 1291.5 L443.7 1290.3 L444.7 1289.2 L447.1 1288.6 L449.9 1289.0 Z M440.5 1293.0 L439.8 1293.3 L438.1 1293.5 L437.3 1292.8 L437.8 1292.3 L439.0 1292.1 L439.6 1292.5 Z M530.8 1295.9 L529.6 1296.2 L528.0 1296.5 L525.4 1296.1 L525.9 1295.4 L527.3 1295.1 L529.4 1295.1 Z M527.4 1309.7 L526.3 1310.2 L524.4 1310.3 L523.4 1310.0 L523.4 1309.0 L524.6 1308.9 L526.6 1308.8 Z M441.2 1292.6 L440.4 1292.7 L439.3 1292.4 L438.8 1292.1 L439.0 1291.3 L439.7 1291.0 L441.4 1291.7 Z M402.8 1308.9 L402.7 1309.5 L401.6 1309.9 L400.3 1309.5 L400.1 1309.2 L400.8 1308.7 L402.0 1308.7 Z M502.8 1306.3 L500.2 1307.8 L497.5 1307.2 L496.6 1306.3 L496.7 1305.7 L498.2 1304.8 L501.2 1305.6 Z M453.5 1291.8 L453.1 1292.3 L451.1 1292.0 L449.0 1291.2 L449.6 1290.3 L451.7 1290.3 L453.3 1291.1 Z M406.7 1291.8 L406.5 1292.2 L404.6 1292.1 L404.4 1291.9 L403.7 1291.3 L405.3 1291.3 L405.9 1291.5 Z M425.0 1309.0 L422.6 1309.0 L419.0 1308.8 L417.5 1307.7 L415.7 1306.3 L420.4 1306.0 L423.6 1307.8 Z M520.8 1294.3 L518.5 1296.3 L514.1 1299.0 L512.9 1298.6 L511.7 1297.7 L513.4 1296.7 L519.4 1293.9 Z M476.5 1303.5 L476.0 1304.3 L474.7 1304.9 L473.3 1304.4 L473.8 1303.7 L474.8 1303.3 L475.8 1303.1 Z M508.8 1305.7 L507.0 1306.5 L505.9 1307.1 L504.3 1306.5 L503.8 1305.4 L505.6 1305.0 L506.7 1305.4 Z M557.0 1308.8 L556.3 1309.0 L555.6 1308.6 L555.5 1308.5 L555.6 1308.1 L556.3 1308.1 L556.7 1308.3 Z M424.0 1300.9 L422.9 1301.5 L421.2 1300.9 L419.9 1299.9 L420.6 1299.8 L421.8 1299.6 L422.7 1300.2 Z M522.1 1285.4 L520.8 1286.7 L515.9 1288.9 L514.8 1288.4 L512.5 1287.4 L517.5 1285.5 L520.0 1284.7 Z M523.9 1288.4 L523.7 1290.3 L520.4 1291.9 L517.2 1292.7 L515.9 1291.3 L519.6 1288.7 L524.4 1287.3 Z M518.9 1288.4 L516.1 1289.1 L512.6 1287.9 L509.6 1286.3 L509.1 1285.2 L514.0 1285.6 L517.7 1287.4 Z M535.8 1313.3 L535.0 1315.2 L532.7 1315.4 L529.1 1314.6 L530.2 1313.3 L531.2 1312.6 L534.9 1312.5 Z M460.2 1301.7 L458.4 1303.2 L453.7 1303.1 L453.1 1301.7 L451.3 1299.7 L454.2 1299.4 L459.2 1299.8 Z M427.7 1298.9 L427.7 1300.1 L423.6 1299.6 L419.5 1297.5 L420.3 1296.5 L423.7 1296.3 L426.0 1297.6 Z M408.1 1286.6 L407.6 1287.0 L406.0 1287.0 L404.5 1286.8 L404.5 1286.0 L405.9 1285.8 L407.4 1286.0 Z M535.2 1287.8 L534.4 1288.4 L530.7 1287.9 L528.8 1286.6 L530.2 1285.4 L531.6 1285.2 L535.2 1286.5 Z M504.3 1302.3 L503.5 1302.7 L502.4 1302.6 L501.5 1301.9 L501.8 1301.5 L502.2 1301.2 L503.4 1301.7 Z M522.7 1292.2 L521.7 1292.7 L520.7 1293.1 L520.3 1292.7 L520.1 1292.2 L520.7 1291.6 L521.6 1291.7 Z M475.9 1290.1 L475.1 1291.1 L474.4 1291.3 L472.4 1291.8 L472.1 1291.1 L473.9 1290.4 L475.5 1289.9 Z M437.9 1290.4 L436.1 1291.3 L434.2 1292.0 L431.6 1292.2 L431.9 1291.0 L434.5 1289.5 L435.6 1289.7 Z M503.9 1300.4 L503.5 1300.9 L502.7 1301.0 L501.4 1300.5 L501.9 1300.1 L502.8 1300.0 L503.4 1299.9 Z M545.1 1287.7 L544.9 1288.7 L543.8 1289.1 L542.8 1289.3 L542.5 1288.5 L543.1 1287.6 L544.6 1287.3 Z M501.8 1291.5 L499.9 1293.4 L497.1 1294.4 L495.2 1293.5 L493.5 1291.6 L495.6 1290.2 L499.1 1290.2 Z M488.7 1306.3 L488.4 1306.7 L487.2 1306.1 L486.8 1305.8 L486.7 1305.3 L487.5 1305.2 L488.9 1306.0 Z M555.9 1294.4 L555.2 1295.3 L549.9 1293.9 L548.9 1292.7 L549.3 1291.1 L552.8 1292.1 L554.8 1293.1 Z M509.7 1300.1 L506.5 1303.0 L502.5 1304.4 L499.9 1304.5 L498.2 1302.9 L500.3 1301.2 L506.7 1300.0 Z M506.8 1308.6 L506.3 1309.0 L505.7 1308.8 L504.9 1308.3 L504.6 1307.9 L506.0 1308.0 L506.7 1308.2 Z M505.4 1307.2 L505.3 1307.7 L504.6 1308.0 L503.1 1307.8 L503.1 1307.6 L504.1 1307.1 L505.0 1307.1 Z M697.7 1307.7 L696.5 1308.2 L694.8 1307.7 L693.3 1306.7 L693.3 1305.7 L695.4 1305.9 L696.7 1306.7 Z M565.1 1316.9 L564.5 1317.7 L563.2 1318.9 L561.6 1318.8 L560.5 1319.0 L562.8 1317.5 L563.8 1317.0 Z M625.2 1314.0 L625.3 1314.6 L624.1 1315.2 L622.7 1315.2 L622.7 1314.8 L623.9 1313.9 L624.4 1313.9 Z M700.7 1313.8 L700.0 1314.8 L697.3 1314.5 L697.1 1313.7 L696.9 1312.5 L698.0 1312.5 L699.7 1313.2 Z M688.5 1309.4 L687.7 1309.8 L686.1 1309.8 L685.0 1309.2 L685.5 1308.8 L686.7 1308.7 L687.5 1308.9 Z M718.0 1326.0 L717.3 1327.0 L714.5 1327.6 L711.9 1327.6 L711.0 1326.4 L713.4 1326.0 L715.6 1325.5 Z M666.4 1311.8 L665.9 1313.1 L663.9 1314.0 L662.4 1314.2 L661.6 1313.1 L663.2 1312.2 L666.5 1311.2 Z M686.3 1304.3 L685.5 1304.9 L683.4 1305.9 L682.1 1306.4 L682.0 1305.5 L682.6 1305.0 L684.5 1304.0 Z M572.0 1309.8 L571.1 1310.9 L570.5 1311.5 L568.9 1311.5 L568.6 1311.1 L570.1 1310.0 L571.0 1309.5 Z M741.4 1328.5 L739.5 1329.5 L738.4 1330.2 L736.0 1330.2 L736.1 1329.3 L737.2 1328.6 L740.1 1328.4 Z M732.9 1311.0 L731.8 1311.9 L731.2 1312.2 L729.0 1312.4 L729.7 1311.7 L730.7 1311.1 L731.6 1311.0 Z M636.3 1313.1 L635.3 1313.4 L634.6 1313.3 L633.3 1312.2 L633.8 1311.8 L635.1 1312.1 L635.9 1312.5 Z M730.3 1305.9 L728.7 1306.6 L727.0 1307.1 L726.0 1306.6 L725.6 1306.1 L727.4 1305.1 L729.1 1304.9 Z M717.4 1327.7 L717.1 1328.3 L716.6 1328.4 L715.5 1328.6 L715.2 1328.3 L716.2 1327.5 L717.0 1327.4 Z M741.4 1317.0 L740.9 1317.8 L737.9 1316.8 L735.3 1315.5 L736.8 1314.9 L738.3 1315.0 L742.1 1316.5 Z M585.9 1329.6 L585.8 1330.0 L584.4 1329.7 L583.7 1329.5 L584.2 1329.1 L585.1 1328.9 L585.7 1329.2 Z M703.3 1330.1 L702.8 1330.5 L701.8 1330.5 L700.6 1329.7 L701.2 1329.5 L702.1 1329.4 L703.2 1329.7 Z M633.5 1330.3 L632.9 1330.5 L632.0 1330.1 L631.2 1329.6 L631.5 1329.1 L632.2 1329.2 L633.1 1329.5 Z M654.5 1304.9 L654.1 1305.2 L653.2 1305.3 L652.7 1304.9 L652.8 1304.3 L653.7 1304.2 L654.4 1304.4 Z M748.0 1302.6 L747.3 1303.3 L744.4 1305.0 L742.5 1305.1 L742.8 1304.2 L743.7 1303.3 L746.4 1302.4 Z M593.4 1308.5 L593.2 1309.0 L592.1 1309.1 L591.6 1308.7 L591.7 1308.4 L592.1 1308.2 L593.3 1308.2 Z M642.8 1312.2 L641.5 1313.0 L639.9 1313.6 L639.1 1313.2 L639.3 1312.2 L640.2 1311.9 L641.9 1311.8 Z M708.4 1330.9 L708.0 1331.3 L706.6 1331.0 L706.1 1330.6 L706.0 1329.7 L706.6 1329.8 L707.9 1330.2 Z M634.4 1329.1 L634.0 1329.7 L632.0 1329.5 L631.1 1329.1 L630.6 1328.2 L632.5 1328.1 L634.0 1328.1 Z M592.8 1322.8 L592.6 1323.0 L591.6 1322.9 L590.9 1322.5 L591.1 1322.2 L591.6 1322.2 L592.5 1322.6 Z M711.3 1328.2 L710.3 1328.3 L709.5 1328.4 L708.2 1327.7 L708.6 1327.4 L709.2 1326.8 L711.0 1327.2 Z M634.4 1331.1 L633.0 1331.6 L632.2 1331.9 L630.4 1332.2 L630.3 1331.7 L631.9 1330.9 L633.2 1330.5 Z M678.8 1315.5 L676.5 1316.4 L675.2 1316.4 L672.2 1316.4 L671.5 1315.7 L674.9 1314.6 L676.4 1314.3 Z M645.7 1323.6 L643.8 1323.2 L642.2 1322.6 L639.9 1321.1 L640.7 1320.6 L643.4 1321.3 L644.6 1322.0 Z M613.8 1320.2 L613.4 1320.7 L612.6 1321.0 L610.5 1321.0 L610.9 1320.4 L612.4 1319.9 L613.4 1319.8 Z M838.2 1308.0 L837.2 1309.2 L832.7 1310.5 L830.3 1310.0 L828.5 1308.9 L833.3 1306.2 L835.9 1306.6 Z M958.6 1325.3 L957.0 1325.4 L954.9 1324.5 L952.5 1322.9 L953.9 1322.9 L955.9 1323.1 L958.4 1324.0 Z M779.3 1316.7 L778.9 1317.7 L777.7 1318.4 L776.7 1318.2 L776.5 1317.6 L776.7 1317.2 L778.2 1316.7 Z M987.5 1317.0 L985.9 1319.0 L983.3 1319.5 L980.8 1318.6 L979.7 1317.9 L983.2 1315.3 L985.7 1315.8 Z M882.4 1326.7 L880.2 1327.1 L875.1 1327.0 L871.7 1325.7 L870.3 1323.9 L875.9 1324.5 L881.2 1325.6 Z M992.3 1329.4 L992.0 1329.8 L990.8 1330.3 L989.1 1330.0 L989.2 1329.1 L990.0 1328.7 L991.9 1328.8 Z M971.6 1323.3 L969.7 1323.0 L967.6 1322.5 L966.5 1321.6 L966.4 1320.6 L968.5 1321.0 L970.9 1322.6 Z M934.9 1305.9 L935.2 1306.5 L933.7 1306.8 L933.3 1306.5 L932.6 1306.1 L933.2 1305.4 L934.7 1305.2 Z M894.1 1312.1 L892.9 1313.6 L888.9 1315.4 L885.0 1316.4 L883.8 1313.8 L888.1 1311.6 L890.5 1311.7 Z M939.4 1318.3 L939.3 1319.3 L937.2 1320.0 L934.2 1320.5 L934.0 1319.9 L935.7 1319.1 L938.4 1318.2 Z M947.3 1311.7 L945.6 1312.7 L942.7 1313.3 L940.9 1312.4 L941.2 1311.0 L943.0 1311.0 L945.4 1310.7 Z M792.3 1322.2 L791.6 1322.8 L788.9 1322.1 L788.7 1321.3 L788.8 1320.7 L790.8 1320.5 L791.9 1321.1 Z M784.8 1318.4 L784.2 1319.2 L782.9 1318.8 L782.2 1318.1 L781.9 1317.6 L783.0 1317.3 L785.2 1317.5 Z M849.4 1312.7 L849.4 1313.6 L845.0 1313.5 L844.6 1312.8 L844.9 1311.6 L846.9 1311.0 L849.1 1312.0 Z M987.2 1324.9 L986.7 1326.1 L985.3 1326.7 L983.3 1326.3 L983.2 1325.8 L984.0 1324.5 L985.8 1324.1 Z M857.2 1321.5 L856.0 1323.2 L854.7 1324.0 L852.4 1324.2 L851.5 1324.1 L853.1 1323.1 L855.8 1321.5 Z M1004.9 1314.7 L1001.3 1315.8 L998.8 1315.8 L994.6 1314.1 L994.0 1312.5 L998.5 1311.8 L1002.2 1312.0 Z M889.1 1315.7 L887.5 1317.0 L886.0 1317.9 L883.6 1317.1 L883.3 1316.1 L885.2 1314.5 L887.6 1314.4 Z M820.7 1317.3 L820.7 1317.9 L818.0 1317.6 L816.7 1316.7 L817.5 1316.3 L818.6 1316.1 L820.8 1316.7 Z M927.9 1328.2 L926.4 1329.5 L924.4 1330.7 L920.5 1331.1 L920.7 1329.3 L922.9 1328.2 L925.8 1326.9 Z M815.7 1309.5 L813.8 1310.2 L811.3 1310.8 L809.5 1311.0 L809.6 1309.8 L811.6 1309.0 L813.1 1308.8 Z M859.7 1306.7 L859.9 1307.2 L856.4 1306.9 L854.2 1306.4 L855.3 1305.5 L856.8 1305.3 L858.5 1305.9 Z M848.0 1320.5 L847.9 1321.6 L845.2 1322.7 L841.6 1323.0 L841.3 1322.0 L843.9 1321.0 L847.6 1319.9 Z M836.1 1324.0 L834.3 1325.3 L831.1 1325.5 L829.0 1325.1 L827.5 1324.8 L830.5 1323.7 L833.5 1323.7 Z M819.8 1306.0 L819.5 1306.5 L818.5 1306.4 L817.9 1306.3 L817.7 1305.9 L818.3 1305.5 L819.4 1305.6 Z M913.1 1319.1 L912.4 1320.2 L911.3 1320.8 L910.2 1320.2 L910.2 1319.0 L911.0 1318.7 L912.5 1318.5 Z M875.4 1316.5 L874.2 1316.6 L871.2 1316.1 L870.4 1315.3 L871.0 1315.0 L871.8 1314.7 L874.2 1315.7 Z M920.4 1309.0 L920.2 1310.1 L918.4 1310.4 L915.7 1310.1 L915.4 1308.9 L917.7 1308.2 L919.9 1307.7 Z M902.1 1324.7 L901.1 1325.1 L898.5 1325.0 L898.3 1323.8 L899.0 1323.1 L900.6 1322.9 L901.8 1323.0 Z M874.6 1325.4 L874.2 1326.1 L871.6 1327.2 L868.6 1327.1 L867.9 1326.4 L869.0 1324.4 L874.5 1323.7 Z M1000.5 1317.6 L1000.7 1319.0 L996.2 1318.3 L994.9 1316.2 L995.1 1314.8 L998.0 1314.7 L1000.3 1315.0 Z M837.6 1323.4 L836.1 1325.3 L834.0 1325.7 L831.7 1325.6 L830.9 1323.0 L833.6 1322.5 L836.7 1321.9 Z M924.1 1315.7 L923.4 1316.8 L921.0 1317.5 L919.7 1316.6 L919.3 1315.1 L920.6 1314.3 L922.4 1314.5 Z M772.5 1325.4 L771.5 1325.9 L769.1 1325.9 L767.5 1325.2 L767.8 1324.6 L770.6 1324.5 L771.5 1324.5 Z M889.6 1308.7 L889.1 1309.4 L886.8 1310.4 L884.7 1310.7 L884.2 1310.4 L886.4 1309.3 L888.9 1308.5 Z M897.5 1310.4 L896.4 1311.9 L894.3 1313.1 L891.2 1312.3 L890.0 1311.2 L891.4 1309.8 L895.5 1309.9 Z M828.5 1307.6 L828.5 1308.4 L826.9 1308.7 L826.3 1308.5 L826.0 1308.0 L826.8 1307.2 L828.1 1307.4 Z M782.7 1323.1 L780.7 1324.5 L777.9 1325.4 L775.1 1325.0 L775.2 1324.5 L778.3 1323.3 L780.9 1323.0 Z M878.6 1318.8 L876.9 1320.2 L875.8 1321.0 L874.3 1320.8 L874.3 1320.3 L875.5 1318.9 L876.8 1318.5 Z M922.0 1321.8 L921.6 1322.1 L920.6 1322.1 L919.8 1321.9 L919.8 1321.6 L920.4 1321.3 L921.6 1321.4 Z M857.0 1309.6 L856.0 1310.8 L854.7 1311.2 L852.6 1311.2 L852.0 1310.6 L853.6 1309.6 L855.6 1309.4 Z M782.5 1317.2 L781.5 1318.5 L777.3 1318.1 L776.5 1317.0 L777.5 1315.8 L779.1 1314.6 L782.0 1315.8 Z M936.5 1307.7 L935.8 1309.0 L933.3 1308.8 L931.2 1307.8 L930.7 1306.7 L933.0 1306.2 L936.0 1307.0 Z M830.7 1311.3 L830.5 1312.8 L828.5 1313.1 L825.4 1313.4 L825.6 1311.7 L826.9 1310.6 L828.9 1310.0 Z M906.7 1313.7 L906.5 1314.1 L903.9 1313.7 L902.7 1313.0 L903.2 1312.4 L905.1 1312.5 L907.3 1313.4 Z M831.9 1326.2 L831.7 1327.1 L828.9 1327.0 L827.0 1325.8 L826.4 1324.4 L828.0 1323.7 L830.5 1324.2 Z M920.3 1322.4 L920.0 1323.0 L919.1 1323.1 L918.4 1322.8 L918.1 1322.4 L919.4 1321.8 L920.2 1322.1 Z M966.6 1313.3 L964.6 1314.0 L962.0 1313.3 L957.7 1310.8 L959.5 1309.4 L961.9 1310.0 L965.8 1311.4 Z M849.7 1309.1 L848.5 1309.2 L847.1 1308.8 L845.8 1308.2 L845.1 1307.6 L847.1 1308.0 L848.8 1308.6 Z M829.7 1306.5 L828.8 1307.1 L827.1 1307.2 L826.5 1307.0 L826.2 1306.5 L828.1 1305.9 L829.5 1306.0 Z M807.8 1319.4 L806.6 1319.8 L804.3 1319.5 L803.8 1318.9 L804.2 1318.3 L804.8 1318.3 L807.4 1318.7 Z M923.6 1322.0 L923.4 1322.9 L916.6 1323.3 L911.9 1322.8 L914.1 1321.7 L917.3 1320.4 L924.4 1320.4 Z M874.9 1323.9 L874.9 1325.3 L872.5 1327.3 L870.0 1326.8 L869.9 1324.7 L871.2 1323.9 L873.7 1323.4 Z M920.2 1317.6 L920.1 1318.2 L918.3 1319.6 L915.6 1319.4 L916.2 1318.0 L918.0 1317.4 L919.5 1317.0 Z M916.0 1307.0 L914.3 1308.6 L912.9 1308.9 L909.1 1308.2 L910.9 1307.2 L912.7 1306.2 L914.5 1306.1 Z M962.3 1327.2 L961.7 1327.7 L959.1 1328.3 L957.8 1328.0 L958.8 1327.3 L959.3 1326.9 L961.9 1326.5 Z M916.4 1318.3 L914.1 1318.9 L912.0 1318.0 L909.4 1316.5 L910.5 1315.8 L912.5 1315.4 L916.1 1317.3 Z M850.1 1318.9 L849.9 1321.0 L845.2 1322.4 L838.2 1322.4 L840.0 1320.9 L842.6 1317.7 L847.4 1317.0 Z M864.0 1318.0 L863.5 1320.0 L861.9 1321.0 L859.3 1320.4 L858.0 1319.0 L859.3 1317.8 L863.1 1317.7 Z M773.8 1327.9 L770.9 1328.6 L768.2 1328.5 L767.1 1327.2 L767.4 1324.9 L770.1 1325.1 L772.2 1325.6 Z M114.7 1306.2 L99.2 1303.9 L89.0 1302.0 L79.9 1299.8 L68.3 1295.3 L68.4 1295.0 L80.5 1296.7 L94.7 1300.5 L100.5 1301.9 Z M76.7 1295.1 L78.2 1295.8 L74.5 1295.9 L70.4 1294.9 L64.7 1293.1 L66.4 1292.6 L68.2 1292.4 L72.4 1292.4 L78.1 1294.2 Z M458.7 1296.1 L455.3 1297.4 L448.4 1299.2 L438.8 1300.1 L435.5 1300.1 L433.7 1298.5 L439.0 1297.3 L451.1 1294.9 L454.3 1295.3 Z M516.9 1302.4 L513.2 1302.9 L504.0 1304.6 L494.0 1304.1 L480.1 1302.1 L476.8 1301.2 L494.7 1299.9 L498.9 1299.5 L521.3 1300.5 Z M425.5 1294.1 L424.1 1294.9 L421.3 1295.5 L414.7 1295.4 L413.9 1294.1 L416.0 1293.3 L418.2 1292.4 L422.3 1292.6 L424.1 1293.6 Z M897.5 1314.2 L894.4 1314.4 L885.5 1313.2 L872.7 1310.0 L864.4 1307.8 L869.9 1307.2 L877.3 1307.9 L881.8 1308.6 L895.1 1311.8 Z M929.5 1318.8 L925.7 1318.5 L923.7 1319.0 L915.0 1317.6 L911.3 1315.9 L911.6 1315.4 L912.6 1314.5 L922.4 1315.8 L925.9 1316.9 Z M866.1 1313.8 L866.2 1315.2 L860.7 1315.3 L858.7 1315.2 L853.5 1314.8 L855.6 1313.3 L857.9 1312.6 L861.2 1312.5 L862.6 1313.0 Z M155.1 1303.1 L154.7 1303.9 L149.9 1304.1 L148.8 1304.2 L146.2 1303.3 L145.4 1302.9 L146.2 1302.0 L151.0 1302.0 L152.9 1302.3 Z " fill="#fff"/>
<text transform="translate(257.6,476.8) scale(0.5,1)" x="0" y="0" font-family="'Liberation Sans', sans-serif" font-weight="700" font-size="92.3" textLength="1333.6" lengthAdjust="spacing" fill="#4a0808" filter="url(#dils)" opacity="0.6">BUREAUCRATS PILING ON</text><text transform="translate(253.6,470.8) scale(0.5,1)" x="0" y="0" font-family="'Liberation Sans', sans-serif" font-weight="700" font-size="92.3" textLength="1333.6" lengthAdjust="spacing" fill="#fff" filter="url(#dil)">BUREAUCRATS PILING ON</text>
<text transform="translate(176.2,560.0) scale(0.5,1)" x="0" y="0" font-family="'Liberation Sans', sans-serif" font-weight="700" font-size="92.3" textLength="1662.0" lengthAdjust="spacing" fill="#4a0808" filter="url(#dils)" opacity="0.6">MORE AND MORE REGULATIONS</text><text transform="translate(172.2,554.0) scale(0.5,1)" x="0" y="0" font-family="'Liberation Sans', sans-serif" font-weight="700" font-size="92.3" textLength="1662.0" lengthAdjust="spacing" fill="#fff" filter="url(#dil)">MORE AND MORE REGULATIONS</text>
<text transform="translate(86.2,1424.4) scale(0.5,1)" x="0" y="0" font-family="'Liberation Sans', sans-serif" font-weight="700" font-size="93.0" textLength="2019.8" lengthAdjust="spacing" fill="#777" filter="url(#dil2s)" opacity="0.75">TIME TO CLEAR AWAY THE BARRIERS -</text><text transform="translate(81.7,1417.4) scale(0.5,1)" x="0" y="0" font-family="'Liberation Sans', sans-serif" font-weight="700" font-size="93.0" textLength="2019.8" lengthAdjust="spacing" fill="#050505" filter="url(#dil2)">TIME TO CLEAR AWAY THE BARRIERS -</text>
<text transform="translate(169.2,1507.2) scale(0.5,1)" x="0" y="0" font-family="'Liberation Sans', sans-serif" font-weight="700" font-size="93.0" textLength="1692.6" lengthAdjust="spacing" fill="#777" filter="url(#dil2s)" opacity="0.75">BUILD, INNOVATE, ACCELERATE!</text><text transform="translate(164.7,1500.2) scale(0.5,1)" x="0" y="0" font-family="'Liberation Sans', sans-serif" font-weight="700" font-size="93.0" textLength="1692.6" lengthAdjust="spacing" fill="#050505" filter="url(#dil2)">BUILD, INNOVATE, ACCELERATE!</text>
</g>
<rect x="22.5" y="199.5" width="1129.5" height="1319" rx="27" fill="none" stroke="#cfd9de" stroke-width="1.6"/>
<text x="21" y="1584" font-family="'Liberation Sans', sans-serif" font-size="31" letter-spacing="-0.67" fill="#536471" stroke="#536471" stroke-width="0.3">2:24 AM · Dec 7, 2024 · <tspan font-weight="700" fill="#0f1419">6.5M</tspan> Views</text>
<rect x="21" y="1626" width="1132" height="1.3" fill="#eff3f4"/>
<rect x="21" y="1719.5" width="1132" height="1.3" fill="#eff3f4"/>
<g transform="translate(52.1,1675.0) scale(1.87) translate(-12,-12)"><path d="M1.751 10c0-4.42 3.584-8 8.005-8h4.366c4.49 0 8.129 3.64 8.129 8.13 0 2.96-1.607 5.68-4.196 7.11l-8.054 4.46v-3.69h-.067c-4.49.1-8.183-3.51-8.183-8.01zm8.005-6c-3.317 0-6.005 2.69-6.005 6 0 3.37 2.77 6.08 6.138 6.01l.351-.01h1.761v2.3l5.087-2.81c1.951-1.08 3.163-3.13 3.163-5.36 0-3.39-2.744-6.13-6.129-6.13H9.756z" fill="#536471"/></g>
<text x="83" y="1684" font-family="'Liberation Sans', sans-serif" font-size="27" fill="#536471">3.2K</text>
<g transform="translate(319.8,1674.9) scale(1.87) translate(-12,-12)"><path d="M4.5 3.88l4.432 4.14-1.364 1.46L5.5 7.55V16c0 1.1.896 2 2 2H13v2H7.5c-2.209 0-4-1.79-4-4V7.55L1.432 9.48.068 8.02 4.5 3.88zM16.5 6H11V4h5.5c2.209 0 4 1.79 4 4v8.45l2.068-1.93 1.364 1.46-4.432 4.14-4.432-4.14 1.364-1.46 2.068 1.93V8c0-1.1-.896-2-2-2z" fill="#536471"/></g>
<text x="349" y="1684" font-family="'Liberation Sans', sans-serif" font-size="27" fill="#536471">8.3K</text>
<g transform="translate(588.3,1674.3) scale(1.87) translate(-12,-12)"><path d="M16.697 5.5c-1.222-.06-2.679.51-3.89 2.16l-.805 1.09-.806-1.09C9.984 6.01 8.526 5.44 7.304 5.5c-1.243.07-2.349.78-2.91 1.91-.552 1.12-.633 2.78.479 4.82 1.074 1.97 3.257 4.27 7.129 6.61 3.87-2.34 6.052-4.64 7.126-6.61 1.111-2.04 1.03-3.7.477-4.82-.561-1.13-1.666-1.84-2.908-1.91zm4.187 7.69c-1.351 2.48-4.001 5.12-8.379 7.67l-.503.3-.504-.3c-4.379-2.55-7.029-5.19-8.382-7.67-1.36-2.5-1.41-4.86-.514-6.67.887-1.79 2.647-2.91 4.601-3.01 1.651-.09 3.368.56 4.798 2.01 1.429-1.45 3.146-2.1 4.796-2.01 1.954.1 3.714 1.22 4.601 3.01.896 1.81.846 4.17-.514 6.67z" fill="#536471"/></g>
<text x="617" y="1684" font-family="'Liberation Sans', sans-serif" font-size="27" fill="#536471">37K</text>
<g transform="translate(856.4,1675.1) scale(1.87) translate(-12,-12)"><path d="M4 4.5C4 3.12 5.119 2 6.5 2h11C18.881 2 20 3.12 20 4.5v18.44l-8-5.71-8 5.71V4.5zM6.5 4c-.276 0-.5.22-.5.5v14.56l6-4.29 6 4.29V4.5c0-.28-.224-.5-.5-.5h-11z" fill="#536471"/></g>
<text x="885" y="1684" font-family="'Liberation Sans', sans-serif" font-size="27" fill="#536471">632</text>
<g transform="translate(1123.1,1674.8) scale(1.87) translate(-12,-12)"><path d="M12 2.59l5.7 5.7-1.41 1.42L13 6.41V16h-2V6.41l-3.3 3.3-1.41-1.42L12 2.59zM21 15l-.02 3.51c0 1.38-1.12 2.49-2.5 2.49H5.5C4.11 21 3 19.88 3 18.5V15h2v3.5c0 .28.22.5.5.5h12.98c.28 0 .5-.22.5-.5L19 15h2z" fill="#536471"/></g>
</svg></body></html>
